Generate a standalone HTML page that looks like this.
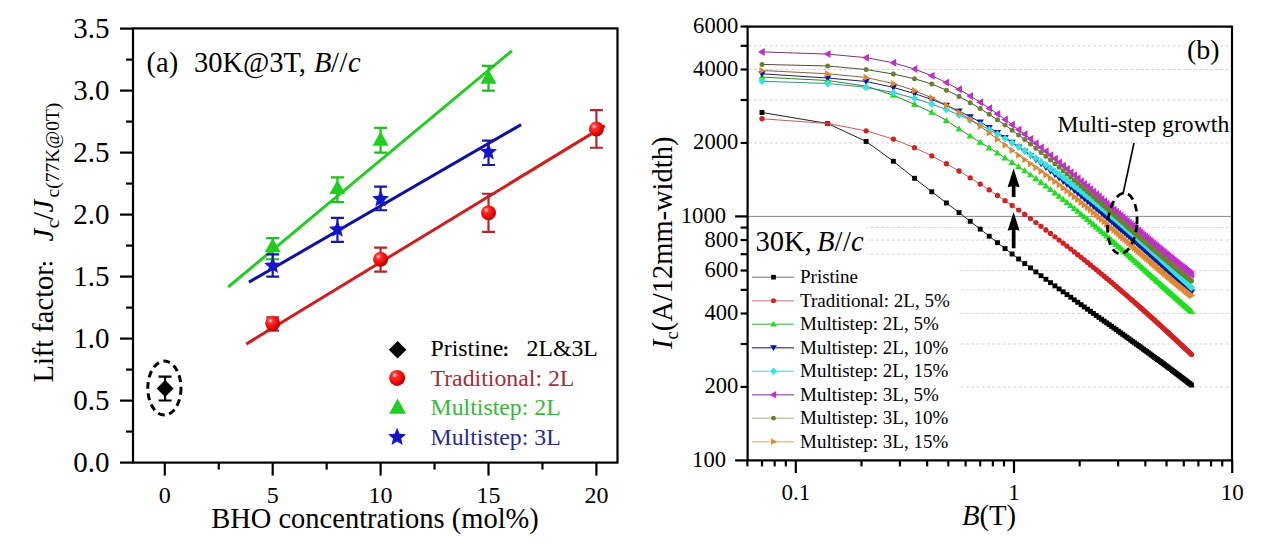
<!DOCTYPE html>
<html><head><meta charset="utf-8"><style>
html,body{margin:0;padding:0;background:#fff;}
svg{display:block;font-family:"Liberation Serif", serif;}
</style></head><body>
<svg width="1270" height="546" viewBox="0 0 1270 546">
<rect x="133.0" y="28.4" width="484.5" height="434.20000000000005" fill="none" stroke="#000" stroke-width="2.2"/>
<line x1="120.0" y1="462.6" x2="133.0" y2="462.6" stroke="#000" stroke-width="2.2"/>
<line x1="126.0" y1="431.6" x2="133.0" y2="431.6" stroke="#000" stroke-width="2.2"/>
<line x1="120.0" y1="400.6" x2="133.0" y2="400.6" stroke="#000" stroke-width="2.2"/>
<line x1="126.0" y1="369.6" x2="133.0" y2="369.6" stroke="#000" stroke-width="2.2"/>
<line x1="120.0" y1="338.6" x2="133.0" y2="338.6" stroke="#000" stroke-width="2.2"/>
<line x1="126.0" y1="307.6" x2="133.0" y2="307.6" stroke="#000" stroke-width="2.2"/>
<line x1="120.0" y1="276.6" x2="133.0" y2="276.6" stroke="#000" stroke-width="2.2"/>
<line x1="126.0" y1="245.6" x2="133.0" y2="245.6" stroke="#000" stroke-width="2.2"/>
<line x1="120.0" y1="214.6" x2="133.0" y2="214.6" stroke="#000" stroke-width="2.2"/>
<line x1="126.0" y1="183.6" x2="133.0" y2="183.6" stroke="#000" stroke-width="2.2"/>
<line x1="120.0" y1="152.6" x2="133.0" y2="152.6" stroke="#000" stroke-width="2.2"/>
<line x1="126.0" y1="121.6" x2="133.0" y2="121.6" stroke="#000" stroke-width="2.2"/>
<line x1="120.0" y1="90.6" x2="133.0" y2="90.6" stroke="#000" stroke-width="2.2"/>
<line x1="126.0" y1="59.6" x2="133.0" y2="59.6" stroke="#000" stroke-width="2.2"/>
<line x1="120.0" y1="28.6" x2="133.0" y2="28.6" stroke="#000" stroke-width="2.2"/>
<text x="109.5" y="472.2" font-size="29" text-anchor="end">0.0</text>
<text x="109.5" y="410.2" font-size="29" text-anchor="end">0.5</text>
<text x="109.5" y="348.2" font-size="29" text-anchor="end">1.0</text>
<text x="109.5" y="286.2" font-size="29" text-anchor="end">1.5</text>
<text x="109.5" y="224.2" font-size="29" text-anchor="end">2.0</text>
<text x="109.5" y="162.2" font-size="29" text-anchor="end">2.5</text>
<text x="109.5" y="100.2" font-size="29" text-anchor="end">3.0</text>
<text x="109.5" y="38.2" font-size="29" text-anchor="end">3.5</text>
<line x1="164.8" y1="462.6" x2="164.8" y2="475.6" stroke="#000" stroke-width="2.2"/>
<line x1="218.75" y1="462.6" x2="218.75" y2="469.6" stroke="#000" stroke-width="2.2"/>
<line x1="272.7" y1="462.6" x2="272.7" y2="475.6" stroke="#000" stroke-width="2.2"/>
<line x1="326.65" y1="462.6" x2="326.65" y2="469.6" stroke="#000" stroke-width="2.2"/>
<line x1="380.6" y1="462.6" x2="380.6" y2="475.6" stroke="#000" stroke-width="2.2"/>
<line x1="434.55" y1="462.6" x2="434.55" y2="469.6" stroke="#000" stroke-width="2.2"/>
<line x1="488.5" y1="462.6" x2="488.5" y2="475.6" stroke="#000" stroke-width="2.2"/>
<line x1="542.45" y1="462.6" x2="542.45" y2="469.6" stroke="#000" stroke-width="2.2"/>
<line x1="596.4" y1="462.6" x2="596.4" y2="475.6" stroke="#000" stroke-width="2.2"/>
<text x="164.8" y="502.6" font-size="24" text-anchor="middle">0</text>
<text x="272.7" y="502.6" font-size="24" text-anchor="middle">5</text>
<text x="380.6" y="502.6" font-size="24" text-anchor="middle">10</text>
<text x="488.5" y="502.6" font-size="24" text-anchor="middle">15</text>
<text x="596.4" y="502.6" font-size="24" text-anchor="middle">20</text>
<text x="375" y="527.5" font-size="28.5" text-anchor="middle">BHO concentrations (mol%)</text>
<g transform="translate(52.5,382.5) rotate(-90)">
<text x="0" y="0" font-size="28.5">Lift factor</text>
<text x="141" y="0" font-size="28.5" font-style="italic">J</text>
<text x="154.3" y="6.8" font-size="19.5">c</text>
<text x="162.5" y="0.5" font-size="28.5">/</text>
<text x="170" y="0" font-size="28.5" font-style="italic">J</text>
<text x="185" y="6.5" font-size="19.5">c(77K@0T)</text>
</g>
<circle cx="44.4" cy="263.7" r="1.6"/><circle cx="51" cy="263.7" r="1.6"/>
<text x="146.5" y="72" font-size="28.5">(a)<tspan x="194">30K@3T,</tspan><tspan x="314" font-style="italic">B</tspan><tspan x="331">/</tspan><tspan x="339.5">/</tspan><tspan x="348" font-style="italic">c</tspan></text>
<line x1="228.2" y1="287" x2="511.9" y2="50.8" stroke="#22cc22" stroke-width="3"/>
<line x1="249" y1="282.1" x2="521.1" y2="124.6" stroke="#1010a0" stroke-width="3"/>
<line x1="246.2" y1="344.1" x2="604.9" y2="125.6" stroke="#cc2020" stroke-width="3"/>
<path d="M158.6 376.7H171.6M165.1 376.7V400.5M158.6 400.5H171.6" stroke="#000" stroke-width="2.2" fill="none"/>
<path d="M165.1 380L173.6 388.5L165.1 397L156.6 388.5Z" fill="#000"/>
<ellipse cx="164.4" cy="388.1" rx="16.6" ry="27" fill="none" stroke="#000" stroke-width="3" stroke-dasharray="6.8 4.6"/>
<path d="M266.2 317.4H279.2M272.7 317.4V330.66M266.2 330.66H279.2" stroke="#b02830" stroke-width="2.2" fill="none"/>
<path d="M374.1 247.58H387.1M380.6 247.58V271.64M374.1 271.64H387.1" stroke="#b02830" stroke-width="2.2" fill="none"/>
<path d="M482 193.77H495M488.5 193.77V231.96M482 231.96H495" stroke="#b02830" stroke-width="2.2" fill="none"/>
<path d="M589.9 110.19H602.9M596.4 110.19V147.76M589.9 147.76H602.9" stroke="#b02830" stroke-width="2.2" fill="none"/>
<circle cx="272.7" cy="323.35" r="7.5" fill="url(#ballg)"/>
<circle cx="380.6" cy="259.24" r="7.5" fill="url(#ballg)"/>
<circle cx="488.5" cy="212.74" r="7.5" fill="url(#ballg)"/>
<circle cx="596.4" cy="129.04" r="7.5" fill="url(#ballg)"/>
<path d="M266.2 238.16H279.2M272.7 238.16V259.24M266.2 259.24H279.2" stroke="#22bb22" stroke-width="2.2" fill="none"/>
<path d="M272.7 237.91L280.7 252.31L264.7 252.31Z" fill="#22cc22"/>
<path d="M330.94 177.4H343.94M337.44 177.4V202.2M330.94 202.2H343.94" stroke="#22bb22" stroke-width="2.2" fill="none"/>
<path d="M337.44 179.63L345.44 194.03L329.44 194.03Z" fill="#22cc22"/>
<path d="M374.1 127.8H387.1M380.6 127.8V152.6M374.1 152.6H387.1" stroke="#22bb22" stroke-width="2.2" fill="none"/>
<path d="M380.6 131.27L388.6 145.67L372.6 145.67Z" fill="#22cc22"/>
<path d="M482 65.8H495M488.5 65.8V90.6M482 90.6H495" stroke="#22bb22" stroke-width="2.2" fill="none"/>
<path d="M488.5 69.27L496.5 83.67L480.5 83.67Z" fill="#22cc22"/>
<path d="M266.2 254.28H279.2M272.7 254.28V276.6M266.2 276.6H279.2" stroke="#1a1aa0" stroke-width="2.2" fill="none"/>
<polygon points="272.7,256.69 275.08,262.41 281.26,262.91 276.55,266.94 277.99,272.97 272.7,269.74 267.41,272.97 268.85,266.94 264.14,262.91 270.32,262.41" fill="#1515c8"/>
<path d="M330.94 217.95H343.94M337.44 217.95V241.88M330.94 241.88H343.94" stroke="#1a1aa0" stroke-width="2.2" fill="none"/>
<polygon points="337.44,220.48 339.82,226.2 346,226.7 341.29,230.73 342.73,236.76 337.44,233.53 332.15,236.76 333.59,230.73 328.88,226.7 335.06,226.2" fill="#1515c8"/>
<path d="M374.1 186.58H387.1M380.6 186.58V210.26M374.1 210.26H387.1" stroke="#1a1aa0" stroke-width="2.2" fill="none"/>
<polygon points="380.6,190.1 382.98,195.82 389.16,196.32 384.45,200.35 385.89,206.38 380.6,203.15 375.31,206.38 376.75,200.35 372.04,196.32 378.22,195.82" fill="#1515c8"/>
<path d="M482 140.57H495M488.5 140.57V165M482 165H495" stroke="#1a1aa0" stroke-width="2.2" fill="none"/>
<polygon points="488.5,143.1 490.88,148.83 497.06,149.32 492.35,153.36 493.79,159.39 488.5,156.15 483.21,159.39 484.65,153.36 479.94,149.32 486.12,148.83" fill="#1515c8"/>
<path d="M397.6 341L406.4 349.8L397.6 358.6L388.8 349.8Z" fill="#000"/>
<circle cx="397.1" cy="377.9" r="8" fill="url(#ballg)"/>
<path d="M397.6 398.51L406.1 413.81L389.1 413.81Z" fill="#22cc22"/>
<polygon points="397.1,427.8 399.61,433.84 406.14,434.36 401.17,438.62 402.68,444.99 397.1,441.57 391.52,444.99 393.03,438.62 388.06,434.36 394.59,433.84" fill="#1515c8"/>
<text x="430.5" y="356.4" font-size="23.8">Pristine<tspan x="526.5">2L&amp;3L</tspan></text>
<circle cx="505.8" cy="347.8" r="1.6"/><circle cx="505.8" cy="354.7" r="1.6"/>
<text x="430.5" y="386.2" font-size="23.8" fill="#a03038">Traditional: 2L</text>
<text x="430.5" y="415.2" font-size="23.8" fill="#38b838">Multistep: 2L</text>
<text x="430.5" y="444.8" font-size="23.8" fill="#2a2a90">Multistep: 3L</text>
<g stroke="#d2d2d2" stroke-width="1" stroke-dasharray="3 2.3">
<line x1="748.6" y1="386.95" x2="1231.0" y2="386.95"/>
<line x1="748.6" y1="343.98" x2="1231.0" y2="343.98"/>
<line x1="748.6" y1="313.5" x2="1231.0" y2="313.5"/>
<line x1="748.6" y1="289.85" x2="1231.0" y2="289.85"/>
<line x1="748.6" y1="270.53" x2="1231.0" y2="270.53"/>
<line x1="748.6" y1="254.2" x2="1231.0" y2="254.2"/>
<line x1="748.6" y1="240.05" x2="1231.0" y2="240.05"/>
<line x1="748.6" y1="227.56" x2="1231.0" y2="227.56"/>
<line x1="748.6" y1="142.95" x2="1231.0" y2="142.95"/>
<line x1="748.6" y1="99.98" x2="1231.0" y2="99.98"/>
<line x1="748.6" y1="69.5" x2="1231.0" y2="69.5"/>
<line x1="748.6" y1="45.85" x2="1231.0" y2="45.85"/>
</g>
<line x1="747.6" y1="216.4" x2="1232.0" y2="216.4" stroke="#888" stroke-width="1"/>
<defs><clipPath id="rc"><rect x="748.6" y="27.6" width="482.4" height="431.8"/></clipPath>
<radialGradient id="ballg" cx="0.35" cy="0.32" r="0.7"><stop offset="0" stop-color="#ffd0d0"/><stop offset="0.25" stop-color="#ff3030"/><stop offset="0.8" stop-color="#e00000"/><stop offset="1" stop-color="#a00000"/></radialGradient></defs>
<g clip-path="url(#rc)">
<path d="M762 112.5 L827.69 123.53 L866.11 141.44 L893.37 161.26 L914.52 178.27 L931.79 191.76 L946.4 202.92 L959.05 212.61 L970.22 221.28 L980.2 229.11 L989.23 236.21 L997.48 242.67 L1005.06 248.57 L1012.09 253.99 L1018.62 258.98 L1024.74 263.6 L1030.48 267.91 L1035.9 271.93 L1041.02 275.72 L1045.89 279.29 L1050.51 282.66 L1054.92 285.87 L1059.13 288.92 L1063.16 291.83 L1067.03 294.61 L1070.75 297.28 L1074.32 299.84 L1077.77 302.31 L1081.1 304.68 L1084.31 306.97 L1087.42 309.18 L1090.42 311.33 L1093.34 313.4 L1096.17 315.41 L1098.92 317.36 L1101.59 319.26 L1104.18 321.11 L1106.71 322.9 L1109.17 324.65 L1111.57 326.36 L1113.91 328.03 L1116.19 329.65 L1118.42 331.24 L1120.6 332.8 L1122.73 334.32 L1124.81 335.81 L1126.85 337.27 L1128.85 338.69 L1130.8 340.1 L1132.72 341.47 L1134.59 342.82 L1136.43 344.14 L1138.24 345.45 L1140.01 346.72 L1141.75 347.98 L1143.46 349.22 L1145.13 350.43 L1146.78 351.63 L1148.4 352.81 L1149.99 353.97 L1151.56 355.11 L1153.1 356.24 L1154.62 357.35 L1156.11 358.44 L1157.58 359.52 L1159.02 360.59 L1160.45 361.64 L1161.85 362.67 L1163.24 363.69 L1164.6 364.7 L1165.94 365.7 L1167.27 366.69 L1168.58 367.66 L1169.87 368.62 L1171.14 369.57 L1172.39 370.51 L1173.63 371.44 L1174.86 372.36 L1176.06 373.27 L1177.25 374.16 L1178.43 375.05 L1179.59 375.93 L1180.74 376.8 L1181.88 377.66 L1183 378.52 L1184.11 379.36 L1185.2 380.2 L1186.29 381.03 L1187.36 381.85 L1188.42 382.66 L1189.46 383.46 L1190.5 384.26 L1191.52 385.05" fill="none" stroke="#202020" stroke-width="1"/>
<g><rect x="759.55" y="110.05" width="4.9" height="4.9" fill="#000000"/><rect x="825.24" y="121.08" width="4.9" height="4.9" fill="#000000"/><rect x="863.66" y="138.99" width="4.9" height="4.9" fill="#000000"/><rect x="890.92" y="158.81" width="4.9" height="4.9" fill="#000000"/><rect x="912.07" y="175.82" width="4.9" height="4.9" fill="#000000"/><rect x="929.34" y="189.31" width="4.9" height="4.9" fill="#000000"/><rect x="943.95" y="200.47" width="4.9" height="4.9" fill="#000000"/><rect x="956.6" y="210.16" width="4.9" height="4.9" fill="#000000"/><rect x="967.77" y="218.83" width="4.9" height="4.9" fill="#000000"/><rect x="977.75" y="226.66" width="4.9" height="4.9" fill="#000000"/><rect x="986.78" y="233.76" width="4.9" height="4.9" fill="#000000"/><rect x="995.03" y="240.22" width="4.9" height="4.9" fill="#000000"/><rect x="1002.61" y="246.12" width="4.9" height="4.9" fill="#000000"/><rect x="1009.64" y="251.54" width="4.9" height="4.9" fill="#000000"/><rect x="1016.17" y="256.53" width="4.9" height="4.9" fill="#000000"/><rect x="1022.29" y="261.15" width="4.9" height="4.9" fill="#000000"/><rect x="1028.03" y="265.46" width="4.9" height="4.9" fill="#000000"/><rect x="1033.45" y="269.48" width="4.9" height="4.9" fill="#000000"/><rect x="1038.57" y="273.27" width="4.9" height="4.9" fill="#000000"/><rect x="1043.44" y="276.84" width="4.9" height="4.9" fill="#000000"/><rect x="1048.06" y="280.21" width="4.9" height="4.9" fill="#000000"/><rect x="1052.47" y="283.42" width="4.9" height="4.9" fill="#000000"/><rect x="1056.68" y="286.47" width="4.9" height="4.9" fill="#000000"/><rect x="1060.71" y="289.38" width="4.9" height="4.9" fill="#000000"/><rect x="1064.58" y="292.16" width="4.9" height="4.9" fill="#000000"/><rect x="1068.3" y="294.83" width="4.9" height="4.9" fill="#000000"/><rect x="1071.87" y="297.39" width="4.9" height="4.9" fill="#000000"/><rect x="1075.32" y="299.86" width="4.9" height="4.9" fill="#000000"/><rect x="1078.65" y="302.23" width="4.9" height="4.9" fill="#000000"/><rect x="1081.86" y="304.52" width="4.9" height="4.9" fill="#000000"/><rect x="1084.97" y="306.73" width="4.9" height="4.9" fill="#000000"/><rect x="1087.97" y="308.88" width="4.9" height="4.9" fill="#000000"/><rect x="1090.89" y="310.95" width="4.9" height="4.9" fill="#000000"/><rect x="1093.72" y="312.96" width="4.9" height="4.9" fill="#000000"/><rect x="1096.47" y="314.91" width="4.9" height="4.9" fill="#000000"/><rect x="1099.14" y="316.81" width="4.9" height="4.9" fill="#000000"/><rect x="1101.73" y="318.66" width="4.9" height="4.9" fill="#000000"/><rect x="1104.26" y="320.45" width="4.9" height="4.9" fill="#000000"/><rect x="1106.72" y="322.2" width="4.9" height="4.9" fill="#000000"/><rect x="1109.12" y="323.91" width="4.9" height="4.9" fill="#000000"/><rect x="1111.46" y="325.58" width="4.9" height="4.9" fill="#000000"/><rect x="1113.74" y="327.2" width="4.9" height="4.9" fill="#000000"/><rect x="1115.97" y="328.79" width="4.9" height="4.9" fill="#000000"/><rect x="1118.15" y="330.35" width="4.9" height="4.9" fill="#000000"/><rect x="1120.28" y="331.87" width="4.9" height="4.9" fill="#000000"/><rect x="1122.36" y="333.36" width="4.9" height="4.9" fill="#000000"/><rect x="1124.4" y="334.82" width="4.9" height="4.9" fill="#000000"/><rect x="1126.4" y="336.24" width="4.9" height="4.9" fill="#000000"/><rect x="1128.35" y="337.65" width="4.9" height="4.9" fill="#000000"/><rect x="1130.27" y="339.02" width="4.9" height="4.9" fill="#000000"/><rect x="1132.14" y="340.37" width="4.9" height="4.9" fill="#000000"/><rect x="1133.98" y="341.69" width="4.9" height="4.9" fill="#000000"/><rect x="1135.79" y="343" width="4.9" height="4.9" fill="#000000"/><rect x="1137.56" y="344.27" width="4.9" height="4.9" fill="#000000"/><rect x="1139.3" y="345.53" width="4.9" height="4.9" fill="#000000"/><rect x="1141.01" y="346.77" width="4.9" height="4.9" fill="#000000"/><rect x="1142.68" y="347.98" width="4.9" height="4.9" fill="#000000"/><rect x="1144.33" y="349.18" width="4.9" height="4.9" fill="#000000"/><rect x="1145.95" y="350.36" width="4.9" height="4.9" fill="#000000"/><rect x="1147.54" y="351.52" width="4.9" height="4.9" fill="#000000"/><rect x="1149.11" y="352.66" width="4.9" height="4.9" fill="#000000"/><rect x="1150.65" y="353.79" width="4.9" height="4.9" fill="#000000"/><rect x="1152.17" y="354.9" width="4.9" height="4.9" fill="#000000"/><rect x="1153.66" y="355.99" width="4.9" height="4.9" fill="#000000"/><rect x="1155.13" y="357.07" width="4.9" height="4.9" fill="#000000"/><rect x="1156.57" y="358.14" width="4.9" height="4.9" fill="#000000"/><rect x="1158" y="359.19" width="4.9" height="4.9" fill="#000000"/><rect x="1159.4" y="360.22" width="4.9" height="4.9" fill="#000000"/><rect x="1160.79" y="361.24" width="4.9" height="4.9" fill="#000000"/><rect x="1162.15" y="362.25" width="4.9" height="4.9" fill="#000000"/><rect x="1163.49" y="363.25" width="4.9" height="4.9" fill="#000000"/><rect x="1164.82" y="364.24" width="4.9" height="4.9" fill="#000000"/><rect x="1166.13" y="365.21" width="4.9" height="4.9" fill="#000000"/><rect x="1167.42" y="366.17" width="4.9" height="4.9" fill="#000000"/><rect x="1168.69" y="367.12" width="4.9" height="4.9" fill="#000000"/><rect x="1169.94" y="368.06" width="4.9" height="4.9" fill="#000000"/><rect x="1171.18" y="368.99" width="4.9" height="4.9" fill="#000000"/><rect x="1172.41" y="369.91" width="4.9" height="4.9" fill="#000000"/><rect x="1173.61" y="370.82" width="4.9" height="4.9" fill="#000000"/><rect x="1174.8" y="371.71" width="4.9" height="4.9" fill="#000000"/><rect x="1175.98" y="372.6" width="4.9" height="4.9" fill="#000000"/><rect x="1177.14" y="373.48" width="4.9" height="4.9" fill="#000000"/><rect x="1178.29" y="374.35" width="4.9" height="4.9" fill="#000000"/><rect x="1179.43" y="375.21" width="4.9" height="4.9" fill="#000000"/><rect x="1180.55" y="376.07" width="4.9" height="4.9" fill="#000000"/><rect x="1181.66" y="376.91" width="4.9" height="4.9" fill="#000000"/><rect x="1182.75" y="377.75" width="4.9" height="4.9" fill="#000000"/><rect x="1183.84" y="378.58" width="4.9" height="4.9" fill="#000000"/><rect x="1184.91" y="379.4" width="4.9" height="4.9" fill="#000000"/><rect x="1185.97" y="380.21" width="4.9" height="4.9" fill="#000000"/><rect x="1187.01" y="381.01" width="4.9" height="4.9" fill="#000000"/><rect x="1188.05" y="381.81" width="4.9" height="4.9" fill="#000000"/><rect x="1189.07" y="382.6" width="4.9" height="4.9" fill="#000000"/></g>
<path d="M762 118.77 L827.69 123.5 L866.11 130.81 L893.37 139.12 L914.52 147.68 L931.79 155.96 L946.4 163.74 L959.05 171.01 L970.22 177.78 L980.2 184.09 L989.23 189.97 L997.48 195.48 L1005.06 200.64 L1012.09 205.5 L1018.62 210.09 L1024.74 214.45 L1030.48 218.6 L1035.9 222.56 L1041.02 226.35 L1045.89 229.98 L1050.51 233.46 L1054.92 236.82 L1059.13 240.05 L1063.16 243.17 L1067.03 246.19 L1070.75 249.1 L1074.32 251.93 L1077.77 254.67 L1081.1 257.34 L1084.31 259.92 L1087.42 262.44 L1090.42 264.89 L1093.34 267.28 L1096.17 269.61 L1098.92 271.88 L1101.59 274.1 L1104.18 276.27 L1106.71 278.38 L1109.17 280.46 L1111.57 282.48 L1113.91 284.47 L1116.19 286.42 L1118.42 288.32 L1120.6 290.19 L1122.73 292.03 L1124.81 293.83 L1126.85 295.59 L1128.85 297.33 L1130.8 299.03 L1132.72 300.71 L1134.59 302.36 L1136.43 303.98 L1138.24 305.57 L1140.01 307.14 L1141.75 308.68 L1143.46 310.2 L1145.13 311.7 L1146.78 313.17 L1148.4 314.63 L1149.99 316.06 L1151.56 317.47 L1153.1 318.86 L1154.62 320.23 L1156.11 321.59 L1157.58 322.92 L1159.02 324.24 L1160.45 325.54 L1161.85 326.83 L1163.24 328.1 L1164.6 329.35 L1165.94 330.59 L1167.27 331.81 L1168.58 333.02 L1169.87 334.21 L1171.14 335.39 L1172.39 336.56 L1173.63 337.71 L1174.86 338.85 L1176.06 339.98 L1177.25 341.09 L1178.43 342.19 L1179.59 343.29 L1180.74 344.37 L1181.88 345.43 L1183 346.49 L1184.11 347.54 L1185.2 348.57 L1186.29 349.6 L1187.36 350.62 L1188.42 351.62 L1189.46 352.62 L1190.5 353.6 L1191.52 354.58" fill="none" stroke="#c06060" stroke-width="1"/>
<g><circle cx="762" cy="118.77" r="2.65" fill="#d02222"/><circle cx="827.69" cy="123.5" r="2.65" fill="#d02222"/><circle cx="866.11" cy="130.81" r="2.65" fill="#d02222"/><circle cx="893.37" cy="139.12" r="2.65" fill="#d02222"/><circle cx="914.52" cy="147.68" r="2.65" fill="#d02222"/><circle cx="931.79" cy="155.96" r="2.65" fill="#d02222"/><circle cx="946.4" cy="163.74" r="2.65" fill="#d02222"/><circle cx="959.05" cy="171.01" r="2.65" fill="#d02222"/><circle cx="970.22" cy="177.78" r="2.65" fill="#d02222"/><circle cx="980.2" cy="184.09" r="2.65" fill="#d02222"/><circle cx="989.23" cy="189.97" r="2.65" fill="#d02222"/><circle cx="997.48" cy="195.48" r="2.65" fill="#d02222"/><circle cx="1005.06" cy="200.64" r="2.65" fill="#d02222"/><circle cx="1012.09" cy="205.5" r="2.65" fill="#d02222"/><circle cx="1018.62" cy="210.09" r="2.65" fill="#d02222"/><circle cx="1024.74" cy="214.45" r="2.65" fill="#d02222"/><circle cx="1030.48" cy="218.6" r="2.65" fill="#d02222"/><circle cx="1035.9" cy="222.56" r="2.65" fill="#d02222"/><circle cx="1041.02" cy="226.35" r="2.65" fill="#d02222"/><circle cx="1045.89" cy="229.98" r="2.65" fill="#d02222"/><circle cx="1050.51" cy="233.46" r="2.65" fill="#d02222"/><circle cx="1054.92" cy="236.82" r="2.65" fill="#d02222"/><circle cx="1059.13" cy="240.05" r="2.65" fill="#d02222"/><circle cx="1063.16" cy="243.17" r="2.65" fill="#d02222"/><circle cx="1067.03" cy="246.19" r="2.65" fill="#d02222"/><circle cx="1070.75" cy="249.1" r="2.65" fill="#d02222"/><circle cx="1074.32" cy="251.93" r="2.65" fill="#d02222"/><circle cx="1077.77" cy="254.67" r="2.65" fill="#d02222"/><circle cx="1081.1" cy="257.34" r="2.65" fill="#d02222"/><circle cx="1084.31" cy="259.92" r="2.65" fill="#d02222"/><circle cx="1087.42" cy="262.44" r="2.65" fill="#d02222"/><circle cx="1090.42" cy="264.89" r="2.65" fill="#d02222"/><circle cx="1093.34" cy="267.28" r="2.65" fill="#d02222"/><circle cx="1096.17" cy="269.61" r="2.65" fill="#d02222"/><circle cx="1098.92" cy="271.88" r="2.65" fill="#d02222"/><circle cx="1101.59" cy="274.1" r="2.65" fill="#d02222"/><circle cx="1104.18" cy="276.27" r="2.65" fill="#d02222"/><circle cx="1106.71" cy="278.38" r="2.65" fill="#d02222"/><circle cx="1109.17" cy="280.46" r="2.65" fill="#d02222"/><circle cx="1111.57" cy="282.48" r="2.65" fill="#d02222"/><circle cx="1113.91" cy="284.47" r="2.65" fill="#d02222"/><circle cx="1116.19" cy="286.42" r="2.65" fill="#d02222"/><circle cx="1118.42" cy="288.32" r="2.65" fill="#d02222"/><circle cx="1120.6" cy="290.19" r="2.65" fill="#d02222"/><circle cx="1122.73" cy="292.03" r="2.65" fill="#d02222"/><circle cx="1124.81" cy="293.83" r="2.65" fill="#d02222"/><circle cx="1126.85" cy="295.59" r="2.65" fill="#d02222"/><circle cx="1128.85" cy="297.33" r="2.65" fill="#d02222"/><circle cx="1130.8" cy="299.03" r="2.65" fill="#d02222"/><circle cx="1132.72" cy="300.71" r="2.65" fill="#d02222"/><circle cx="1134.59" cy="302.36" r="2.65" fill="#d02222"/><circle cx="1136.43" cy="303.98" r="2.65" fill="#d02222"/><circle cx="1138.24" cy="305.57" r="2.65" fill="#d02222"/><circle cx="1140.01" cy="307.14" r="2.65" fill="#d02222"/><circle cx="1141.75" cy="308.68" r="2.65" fill="#d02222"/><circle cx="1143.46" cy="310.2" r="2.65" fill="#d02222"/><circle cx="1145.13" cy="311.7" r="2.65" fill="#d02222"/><circle cx="1146.78" cy="313.17" r="2.65" fill="#d02222"/><circle cx="1148.4" cy="314.63" r="2.65" fill="#d02222"/><circle cx="1149.99" cy="316.06" r="2.65" fill="#d02222"/><circle cx="1151.56" cy="317.47" r="2.65" fill="#d02222"/><circle cx="1153.1" cy="318.86" r="2.65" fill="#d02222"/><circle cx="1154.62" cy="320.23" r="2.65" fill="#d02222"/><circle cx="1156.11" cy="321.59" r="2.65" fill="#d02222"/><circle cx="1157.58" cy="322.92" r="2.65" fill="#d02222"/><circle cx="1159.02" cy="324.24" r="2.65" fill="#d02222"/><circle cx="1160.45" cy="325.54" r="2.65" fill="#d02222"/><circle cx="1161.85" cy="326.83" r="2.65" fill="#d02222"/><circle cx="1163.24" cy="328.1" r="2.65" fill="#d02222"/><circle cx="1164.6" cy="329.35" r="2.65" fill="#d02222"/><circle cx="1165.94" cy="330.59" r="2.65" fill="#d02222"/><circle cx="1167.27" cy="331.81" r="2.65" fill="#d02222"/><circle cx="1168.58" cy="333.02" r="2.65" fill="#d02222"/><circle cx="1169.87" cy="334.21" r="2.65" fill="#d02222"/><circle cx="1171.14" cy="335.39" r="2.65" fill="#d02222"/><circle cx="1172.39" cy="336.56" r="2.65" fill="#d02222"/><circle cx="1173.63" cy="337.71" r="2.65" fill="#d02222"/><circle cx="1174.86" cy="338.85" r="2.65" fill="#d02222"/><circle cx="1176.06" cy="339.98" r="2.65" fill="#d02222"/><circle cx="1177.25" cy="341.09" r="2.65" fill="#d02222"/><circle cx="1178.43" cy="342.19" r="2.65" fill="#d02222"/><circle cx="1179.59" cy="343.29" r="2.65" fill="#d02222"/><circle cx="1180.74" cy="344.37" r="2.65" fill="#d02222"/><circle cx="1181.88" cy="345.43" r="2.65" fill="#d02222"/><circle cx="1183" cy="346.49" r="2.65" fill="#d02222"/><circle cx="1184.11" cy="347.54" r="2.65" fill="#d02222"/><circle cx="1185.2" cy="348.57" r="2.65" fill="#d02222"/><circle cx="1186.29" cy="349.6" r="2.65" fill="#d02222"/><circle cx="1187.36" cy="350.62" r="2.65" fill="#d02222"/><circle cx="1188.42" cy="351.62" r="2.65" fill="#d02222"/><circle cx="1189.46" cy="352.62" r="2.65" fill="#d02222"/><circle cx="1190.5" cy="353.6" r="2.65" fill="#d02222"/><circle cx="1191.52" cy="354.58" r="2.65" fill="#d02222"/></g>
<path d="M762 77.1 L827.69 80.5 L866.11 86.13 L893.37 95.35 L914.52 104.37 L931.79 112.33 L946.4 120.5 L959.05 128.9 L970.22 136.04 L980.2 142.27 L989.23 147.89 L997.48 153.05 L1005.06 157.86 L1012.09 162.39 L1018.62 166.69 L1024.74 170.82 L1030.48 174.8 L1035.9 178.65 L1041.02 182.38 L1045.89 186 L1050.51 189.5 L1054.92 192.9 L1059.13 196.19 L1063.16 199.39 L1067.03 202.49 L1070.75 205.5 L1074.32 208.43 L1077.77 211.28 L1081.1 214.05 L1084.31 216.75 L1087.42 219.38 L1090.42 221.94 L1093.34 224.43 L1096.17 226.86 L1098.92 229.24 L1101.59 231.56 L1104.18 233.82 L1106.71 236.03 L1109.17 238.19 L1111.57 240.3 L1113.91 242.36 L1116.19 244.38 L1118.42 246.36 L1120.6 248.3 L1122.73 250.19 L1124.81 252.05 L1126.85 253.87 L1128.85 255.65 L1130.8 257.4 L1132.72 259.12 L1134.59 260.8 L1136.43 262.45 L1138.24 264.07 L1140.01 265.66 L1141.75 267.23 L1143.46 268.76 L1145.13 270.27 L1146.78 271.75 L1148.4 273.21 L1149.99 274.64 L1151.56 276.05 L1153.1 277.43 L1154.62 278.79 L1156.11 280.13 L1157.58 281.45 L1159.02 282.75 L1160.45 284.02 L1161.85 285.28 L1163.24 286.52 L1164.6 287.74 L1165.94 288.94 L1167.27 290.12 L1168.58 291.29 L1169.87 292.44 L1171.14 293.57 L1172.39 294.69 L1173.63 295.79 L1174.86 296.87 L1176.06 297.94 L1177.25 299 L1178.43 300.04 L1179.59 301.07 L1180.74 302.08 L1181.88 303.08 L1183 304.07 L1184.11 305.04 L1185.2 306 L1186.29 306.95 L1187.36 307.89 L1188.42 308.81 L1189.46 309.73 L1190.5 310.63 L1191.52 311.52" fill="none" stroke="#308030" stroke-width="1"/>
<g><path d="M762 73.5L765.6 79.62L758.4 79.62Z" fill="#22dd22"/><path d="M827.69 76.9L831.29 83.02L824.09 83.02Z" fill="#22dd22"/><path d="M866.11 82.53L869.71 88.65L862.51 88.65Z" fill="#22dd22"/><path d="M893.37 91.75L896.97 97.87L889.77 97.87Z" fill="#22dd22"/><path d="M914.52 100.77L918.12 106.89L910.92 106.89Z" fill="#22dd22"/><path d="M931.79 108.73L935.39 114.85L928.19 114.85Z" fill="#22dd22"/><path d="M946.4 116.9L950 123.02L942.8 123.02Z" fill="#22dd22"/><path d="M959.05 125.3L962.65 131.42L955.45 131.42Z" fill="#22dd22"/><path d="M970.22 132.44L973.82 138.56L966.62 138.56Z" fill="#22dd22"/><path d="M980.2 138.67L983.8 144.79L976.6 144.79Z" fill="#22dd22"/><path d="M989.23 144.29L992.83 150.41L985.63 150.41Z" fill="#22dd22"/><path d="M997.48 149.45L1001.08 155.57L993.88 155.57Z" fill="#22dd22"/><path d="M1005.06 154.26L1008.66 160.38L1001.46 160.38Z" fill="#22dd22"/><path d="M1012.09 158.79L1015.69 164.91L1008.49 164.91Z" fill="#22dd22"/><path d="M1018.62 163.09L1022.22 169.21L1015.02 169.21Z" fill="#22dd22"/><path d="M1024.74 167.22L1028.34 173.34L1021.14 173.34Z" fill="#22dd22"/><path d="M1030.48 171.2L1034.08 177.32L1026.88 177.32Z" fill="#22dd22"/><path d="M1035.9 175.05L1039.5 181.17L1032.3 181.17Z" fill="#22dd22"/><path d="M1041.02 178.78L1044.62 184.9L1037.42 184.9Z" fill="#22dd22"/><path d="M1045.89 182.4L1049.49 188.52L1042.29 188.52Z" fill="#22dd22"/><path d="M1050.51 185.9L1054.11 192.02L1046.91 192.02Z" fill="#22dd22"/><path d="M1054.92 189.3L1058.52 195.42L1051.32 195.42Z" fill="#22dd22"/><path d="M1059.13 192.59L1062.73 198.71L1055.53 198.71Z" fill="#22dd22"/><path d="M1063.16 195.79L1066.76 201.91L1059.56 201.91Z" fill="#22dd22"/><path d="M1067.03 198.89L1070.63 205.01L1063.43 205.01Z" fill="#22dd22"/><path d="M1070.75 201.9L1074.35 208.02L1067.15 208.02Z" fill="#22dd22"/><path d="M1074.32 204.83L1077.92 210.95L1070.72 210.95Z" fill="#22dd22"/><path d="M1077.77 207.68L1081.37 213.8L1074.17 213.8Z" fill="#22dd22"/><path d="M1081.1 210.45L1084.7 216.57L1077.5 216.57Z" fill="#22dd22"/><path d="M1084.31 213.15L1087.91 219.27L1080.71 219.27Z" fill="#22dd22"/><path d="M1087.42 215.78L1091.02 221.9L1083.82 221.9Z" fill="#22dd22"/><path d="M1090.42 218.34L1094.02 224.46L1086.82 224.46Z" fill="#22dd22"/><path d="M1093.34 220.83L1096.94 226.95L1089.74 226.95Z" fill="#22dd22"/><path d="M1096.17 223.26L1099.77 229.38L1092.57 229.38Z" fill="#22dd22"/><path d="M1098.92 225.64L1102.52 231.76L1095.32 231.76Z" fill="#22dd22"/><path d="M1101.59 227.96L1105.19 234.08L1097.99 234.08Z" fill="#22dd22"/><path d="M1104.18 230.22L1107.78 236.34L1100.58 236.34Z" fill="#22dd22"/><path d="M1106.71 232.43L1110.31 238.55L1103.11 238.55Z" fill="#22dd22"/><path d="M1109.17 234.59L1112.77 240.71L1105.57 240.71Z" fill="#22dd22"/><path d="M1111.57 236.7L1115.17 242.82L1107.97 242.82Z" fill="#22dd22"/><path d="M1113.91 238.76L1117.51 244.88L1110.31 244.88Z" fill="#22dd22"/><path d="M1116.19 240.78L1119.79 246.9L1112.59 246.9Z" fill="#22dd22"/><path d="M1118.42 242.76L1122.02 248.88L1114.82 248.88Z" fill="#22dd22"/><path d="M1120.6 244.7L1124.2 250.82L1117 250.82Z" fill="#22dd22"/><path d="M1122.73 246.59L1126.33 252.71L1119.13 252.71Z" fill="#22dd22"/><path d="M1124.81 248.45L1128.41 254.57L1121.21 254.57Z" fill="#22dd22"/><path d="M1126.85 250.27L1130.45 256.39L1123.25 256.39Z" fill="#22dd22"/><path d="M1128.85 252.05L1132.45 258.17L1125.25 258.17Z" fill="#22dd22"/><path d="M1130.8 253.8L1134.4 259.92L1127.2 259.92Z" fill="#22dd22"/><path d="M1132.72 255.52L1136.32 261.64L1129.12 261.64Z" fill="#22dd22"/><path d="M1134.59 257.2L1138.19 263.32L1130.99 263.32Z" fill="#22dd22"/><path d="M1136.43 258.85L1140.03 264.97L1132.83 264.97Z" fill="#22dd22"/><path d="M1138.24 260.47L1141.84 266.59L1134.64 266.59Z" fill="#22dd22"/><path d="M1140.01 262.06L1143.61 268.18L1136.41 268.18Z" fill="#22dd22"/><path d="M1141.75 263.63L1145.35 269.75L1138.15 269.75Z" fill="#22dd22"/><path d="M1143.46 265.16L1147.06 271.28L1139.86 271.28Z" fill="#22dd22"/><path d="M1145.13 266.67L1148.73 272.79L1141.53 272.79Z" fill="#22dd22"/><path d="M1146.78 268.15L1150.38 274.27L1143.18 274.27Z" fill="#22dd22"/><path d="M1148.4 269.61L1152 275.73L1144.8 275.73Z" fill="#22dd22"/><path d="M1149.99 271.04L1153.59 277.16L1146.39 277.16Z" fill="#22dd22"/><path d="M1151.56 272.45L1155.16 278.57L1147.96 278.57Z" fill="#22dd22"/><path d="M1153.1 273.83L1156.7 279.95L1149.5 279.95Z" fill="#22dd22"/><path d="M1154.62 275.19L1158.22 281.31L1151.02 281.31Z" fill="#22dd22"/><path d="M1156.11 276.53L1159.71 282.65L1152.51 282.65Z" fill="#22dd22"/><path d="M1157.58 277.85L1161.18 283.97L1153.98 283.97Z" fill="#22dd22"/><path d="M1159.02 279.15L1162.62 285.27L1155.42 285.27Z" fill="#22dd22"/><path d="M1160.45 280.42L1164.05 286.54L1156.85 286.54Z" fill="#22dd22"/><path d="M1161.85 281.68L1165.45 287.8L1158.25 287.8Z" fill="#22dd22"/><path d="M1163.24 282.92L1166.84 289.04L1159.64 289.04Z" fill="#22dd22"/><path d="M1164.6 284.14L1168.2 290.26L1161 290.26Z" fill="#22dd22"/><path d="M1165.94 285.34L1169.54 291.46L1162.34 291.46Z" fill="#22dd22"/><path d="M1167.27 286.52L1170.87 292.64L1163.67 292.64Z" fill="#22dd22"/><path d="M1168.58 287.69L1172.18 293.81L1164.98 293.81Z" fill="#22dd22"/><path d="M1169.87 288.84L1173.47 294.96L1166.27 294.96Z" fill="#22dd22"/><path d="M1171.14 289.97L1174.74 296.09L1167.54 296.09Z" fill="#22dd22"/><path d="M1172.39 291.09L1175.99 297.21L1168.79 297.21Z" fill="#22dd22"/><path d="M1173.63 292.19L1177.23 298.31L1170.03 298.31Z" fill="#22dd22"/><path d="M1174.86 293.27L1178.46 299.39L1171.26 299.39Z" fill="#22dd22"/><path d="M1176.06 294.34L1179.66 300.46L1172.46 300.46Z" fill="#22dd22"/><path d="M1177.25 295.4L1180.85 301.52L1173.65 301.52Z" fill="#22dd22"/><path d="M1178.43 296.44L1182.03 302.56L1174.83 302.56Z" fill="#22dd22"/><path d="M1179.59 297.47L1183.19 303.59L1175.99 303.59Z" fill="#22dd22"/><path d="M1180.74 298.48L1184.34 304.6L1177.14 304.6Z" fill="#22dd22"/><path d="M1181.88 299.48L1185.48 305.6L1178.28 305.6Z" fill="#22dd22"/><path d="M1183 300.47L1186.6 306.59L1179.4 306.59Z" fill="#22dd22"/><path d="M1184.11 301.44L1187.71 307.56L1180.51 307.56Z" fill="#22dd22"/><path d="M1185.2 302.4L1188.8 308.52L1181.6 308.52Z" fill="#22dd22"/><path d="M1186.29 303.35L1189.89 309.47L1182.69 309.47Z" fill="#22dd22"/><path d="M1187.36 304.29L1190.96 310.41L1183.76 310.41Z" fill="#22dd22"/><path d="M1188.42 305.21L1192.02 311.33L1184.82 311.33Z" fill="#22dd22"/><path d="M1189.46 306.13L1193.06 312.25L1185.86 312.25Z" fill="#22dd22"/><path d="M1190.5 307.03L1194.1 313.15L1186.9 313.15Z" fill="#22dd22"/><path d="M1191.52 307.92L1195.12 314.04L1187.92 314.04Z" fill="#22dd22"/></g>
<path d="M762 73.82 L827.69 78.04 L866.11 81.48 L893.37 87.41 L914.52 93.55 L931.79 99.54 L946.4 105.39 L959.05 111.11 L970.22 116.69 L980.2 122.13 L989.23 127.44 L997.48 132.59 L1005.06 137.56 L1012.09 142.34 L1018.62 146.95 L1024.74 151.37 L1030.48 155.63 L1035.9 159.72 L1041.02 163.66 L1045.89 167.45 L1050.51 171.1 L1054.92 174.62 L1059.13 178.01 L1063.16 181.28 L1067.03 184.44 L1070.75 187.5 L1074.32 190.45 L1077.77 193.31 L1081.1 196.08 L1084.31 198.76 L1087.42 201.36 L1090.42 203.88 L1093.34 206.33 L1096.17 208.71 L1098.92 211.02 L1101.59 213.27 L1104.18 215.46 L1106.71 217.6 L1109.17 219.68 L1111.57 221.72 L1113.91 223.71 L1116.19 225.65 L1118.42 227.55 L1120.6 229.41 L1122.73 231.23 L1124.81 233.01 L1126.85 234.76 L1128.85 236.47 L1130.8 238.15 L1132.72 239.8 L1134.59 241.42 L1136.43 243.01 L1138.24 244.57 L1140.01 246.11 L1141.75 247.62 L1143.46 249.1 L1145.13 250.56 L1146.78 252 L1148.4 253.41 L1149.99 254.81 L1151.56 256.18 L1153.1 257.53 L1154.62 258.86 L1156.11 260.18 L1157.58 261.47 L1159.02 262.75 L1160.45 264.01 L1161.85 265.25 L1163.24 266.48 L1164.6 267.69 L1165.94 268.89 L1167.27 270.07 L1168.58 271.23 L1169.87 272.39 L1171.14 273.52 L1172.39 274.65 L1173.63 275.76 L1174.86 276.86 L1176.06 277.94 L1177.25 279.02 L1178.43 280.08 L1179.59 281.13 L1180.74 282.17 L1181.88 283.2 L1183 284.22 L1184.11 285.22 L1185.2 286.22 L1186.29 287.2 L1187.36 288.18 L1188.42 289.15 L1189.46 290.11 L1190.5 291.05 L1191.52 291.99" fill="none" stroke="#202070" stroke-width="1"/>
<g><path d="M762 77.42L765.6 71.3L758.4 71.3Z" fill="#0a1a9a"/><path d="M827.69 81.64L831.29 75.52L824.09 75.52Z" fill="#0a1a9a"/><path d="M866.11 85.08L869.71 78.96L862.51 78.96Z" fill="#0a1a9a"/><path d="M893.37 91.01L896.97 84.89L889.77 84.89Z" fill="#0a1a9a"/><path d="M914.52 97.15L918.12 91.03L910.92 91.03Z" fill="#0a1a9a"/><path d="M931.79 103.14L935.39 97.02L928.19 97.02Z" fill="#0a1a9a"/><path d="M946.4 108.99L950 102.87L942.8 102.87Z" fill="#0a1a9a"/><path d="M959.05 114.71L962.65 108.59L955.45 108.59Z" fill="#0a1a9a"/><path d="M970.22 120.29L973.82 114.17L966.62 114.17Z" fill="#0a1a9a"/><path d="M980.2 125.73L983.8 119.61L976.6 119.61Z" fill="#0a1a9a"/><path d="M989.23 131.04L992.83 124.92L985.63 124.92Z" fill="#0a1a9a"/><path d="M997.48 136.19L1001.08 130.07L993.88 130.07Z" fill="#0a1a9a"/><path d="M1005.06 141.16L1008.66 135.04L1001.46 135.04Z" fill="#0a1a9a"/><path d="M1012.09 145.94L1015.69 139.82L1008.49 139.82Z" fill="#0a1a9a"/><path d="M1018.62 150.55L1022.22 144.43L1015.02 144.43Z" fill="#0a1a9a"/><path d="M1024.74 154.97L1028.34 148.85L1021.14 148.85Z" fill="#0a1a9a"/><path d="M1030.48 159.23L1034.08 153.11L1026.88 153.11Z" fill="#0a1a9a"/><path d="M1035.9 163.32L1039.5 157.2L1032.3 157.2Z" fill="#0a1a9a"/><path d="M1041.02 167.26L1044.62 161.14L1037.42 161.14Z" fill="#0a1a9a"/><path d="M1045.89 171.05L1049.49 164.93L1042.29 164.93Z" fill="#0a1a9a"/><path d="M1050.51 174.7L1054.11 168.58L1046.91 168.58Z" fill="#0a1a9a"/><path d="M1054.92 178.22L1058.52 172.1L1051.32 172.1Z" fill="#0a1a9a"/><path d="M1059.13 181.61L1062.73 175.49L1055.53 175.49Z" fill="#0a1a9a"/><path d="M1063.16 184.88L1066.76 178.76L1059.56 178.76Z" fill="#0a1a9a"/><path d="M1067.03 188.04L1070.63 181.92L1063.43 181.92Z" fill="#0a1a9a"/><path d="M1070.75 191.1L1074.35 184.98L1067.15 184.98Z" fill="#0a1a9a"/><path d="M1074.32 194.05L1077.92 187.93L1070.72 187.93Z" fill="#0a1a9a"/><path d="M1077.77 196.91L1081.37 190.79L1074.17 190.79Z" fill="#0a1a9a"/><path d="M1081.1 199.68L1084.7 193.56L1077.5 193.56Z" fill="#0a1a9a"/><path d="M1084.31 202.36L1087.91 196.24L1080.71 196.24Z" fill="#0a1a9a"/><path d="M1087.42 204.96L1091.02 198.84L1083.82 198.84Z" fill="#0a1a9a"/><path d="M1090.42 207.48L1094.02 201.36L1086.82 201.36Z" fill="#0a1a9a"/><path d="M1093.34 209.93L1096.94 203.81L1089.74 203.81Z" fill="#0a1a9a"/><path d="M1096.17 212.31L1099.77 206.19L1092.57 206.19Z" fill="#0a1a9a"/><path d="M1098.92 214.62L1102.52 208.5L1095.32 208.5Z" fill="#0a1a9a"/><path d="M1101.59 216.87L1105.19 210.75L1097.99 210.75Z" fill="#0a1a9a"/><path d="M1104.18 219.06L1107.78 212.94L1100.58 212.94Z" fill="#0a1a9a"/><path d="M1106.71 221.2L1110.31 215.08L1103.11 215.08Z" fill="#0a1a9a"/><path d="M1109.17 223.28L1112.77 217.16L1105.57 217.16Z" fill="#0a1a9a"/><path d="M1111.57 225.32L1115.17 219.2L1107.97 219.2Z" fill="#0a1a9a"/><path d="M1113.91 227.31L1117.51 221.19L1110.31 221.19Z" fill="#0a1a9a"/><path d="M1116.19 229.25L1119.79 223.13L1112.59 223.13Z" fill="#0a1a9a"/><path d="M1118.42 231.15L1122.02 225.03L1114.82 225.03Z" fill="#0a1a9a"/><path d="M1120.6 233.01L1124.2 226.89L1117 226.89Z" fill="#0a1a9a"/><path d="M1122.73 234.83L1126.33 228.71L1119.13 228.71Z" fill="#0a1a9a"/><path d="M1124.81 236.61L1128.41 230.49L1121.21 230.49Z" fill="#0a1a9a"/><path d="M1126.85 238.36L1130.45 232.24L1123.25 232.24Z" fill="#0a1a9a"/><path d="M1128.85 240.07L1132.45 233.95L1125.25 233.95Z" fill="#0a1a9a"/><path d="M1130.8 241.75L1134.4 235.63L1127.2 235.63Z" fill="#0a1a9a"/><path d="M1132.72 243.4L1136.32 237.28L1129.12 237.28Z" fill="#0a1a9a"/><path d="M1134.59 245.02L1138.19 238.9L1130.99 238.9Z" fill="#0a1a9a"/><path d="M1136.43 246.61L1140.03 240.49L1132.83 240.49Z" fill="#0a1a9a"/><path d="M1138.24 248.17L1141.84 242.05L1134.64 242.05Z" fill="#0a1a9a"/><path d="M1140.01 249.71L1143.61 243.59L1136.41 243.59Z" fill="#0a1a9a"/><path d="M1141.75 251.22L1145.35 245.1L1138.15 245.1Z" fill="#0a1a9a"/><path d="M1143.46 252.7L1147.06 246.58L1139.86 246.58Z" fill="#0a1a9a"/><path d="M1145.13 254.16L1148.73 248.04L1141.53 248.04Z" fill="#0a1a9a"/><path d="M1146.78 255.6L1150.38 249.48L1143.18 249.48Z" fill="#0a1a9a"/><path d="M1148.4 257.01L1152 250.89L1144.8 250.89Z" fill="#0a1a9a"/><path d="M1149.99 258.41L1153.59 252.29L1146.39 252.29Z" fill="#0a1a9a"/><path d="M1151.56 259.78L1155.16 253.66L1147.96 253.66Z" fill="#0a1a9a"/><path d="M1153.1 261.13L1156.7 255.01L1149.5 255.01Z" fill="#0a1a9a"/><path d="M1154.62 262.46L1158.22 256.34L1151.02 256.34Z" fill="#0a1a9a"/><path d="M1156.11 263.78L1159.71 257.66L1152.51 257.66Z" fill="#0a1a9a"/><path d="M1157.58 265.07L1161.18 258.95L1153.98 258.95Z" fill="#0a1a9a"/><path d="M1159.02 266.35L1162.62 260.23L1155.42 260.23Z" fill="#0a1a9a"/><path d="M1160.45 267.61L1164.05 261.49L1156.85 261.49Z" fill="#0a1a9a"/><path d="M1161.85 268.85L1165.45 262.73L1158.25 262.73Z" fill="#0a1a9a"/><path d="M1163.24 270.08L1166.84 263.96L1159.64 263.96Z" fill="#0a1a9a"/><path d="M1164.6 271.29L1168.2 265.17L1161 265.17Z" fill="#0a1a9a"/><path d="M1165.94 272.49L1169.54 266.37L1162.34 266.37Z" fill="#0a1a9a"/><path d="M1167.27 273.67L1170.87 267.55L1163.67 267.55Z" fill="#0a1a9a"/><path d="M1168.58 274.83L1172.18 268.71L1164.98 268.71Z" fill="#0a1a9a"/><path d="M1169.87 275.99L1173.47 269.87L1166.27 269.87Z" fill="#0a1a9a"/><path d="M1171.14 277.12L1174.74 271L1167.54 271Z" fill="#0a1a9a"/><path d="M1172.39 278.25L1175.99 272.13L1168.79 272.13Z" fill="#0a1a9a"/><path d="M1173.63 279.36L1177.23 273.24L1170.03 273.24Z" fill="#0a1a9a"/><path d="M1174.86 280.46L1178.46 274.34L1171.26 274.34Z" fill="#0a1a9a"/><path d="M1176.06 281.54L1179.66 275.42L1172.46 275.42Z" fill="#0a1a9a"/><path d="M1177.25 282.62L1180.85 276.5L1173.65 276.5Z" fill="#0a1a9a"/><path d="M1178.43 283.68L1182.03 277.56L1174.83 277.56Z" fill="#0a1a9a"/><path d="M1179.59 284.73L1183.19 278.61L1175.99 278.61Z" fill="#0a1a9a"/><path d="M1180.74 285.77L1184.34 279.65L1177.14 279.65Z" fill="#0a1a9a"/><path d="M1181.88 286.8L1185.48 280.68L1178.28 280.68Z" fill="#0a1a9a"/><path d="M1183 287.82L1186.6 281.7L1179.4 281.7Z" fill="#0a1a9a"/><path d="M1184.11 288.82L1187.71 282.7L1180.51 282.7Z" fill="#0a1a9a"/><path d="M1185.2 289.82L1188.8 283.7L1181.6 283.7Z" fill="#0a1a9a"/><path d="M1186.29 290.8L1189.89 284.68L1182.69 284.68Z" fill="#0a1a9a"/><path d="M1187.36 291.78L1190.96 285.66L1183.76 285.66Z" fill="#0a1a9a"/><path d="M1188.42 292.75L1192.02 286.63L1184.82 286.63Z" fill="#0a1a9a"/><path d="M1189.46 293.71L1193.06 287.59L1185.86 287.59Z" fill="#0a1a9a"/><path d="M1190.5 294.65L1194.1 288.53L1186.9 288.53Z" fill="#0a1a9a"/><path d="M1191.52 295.59L1195.12 289.47L1187.92 289.47Z" fill="#0a1a9a"/></g>
<path d="M762 81.23 L827.69 83.5 L866.11 87.26 L893.37 92.6 L914.52 98.37 L931.79 104.07 L946.4 109.61 L959.05 114.93 L970.22 120.05 L980.2 124.97 L989.23 129.69 L997.48 134.24 L1005.06 138.61 L1012.09 142.82 L1018.62 146.86 L1024.74 150.76 L1030.48 154.52 L1035.9 158.14 L1041.02 161.64 L1045.89 165.02 L1050.51 168.3 L1054.92 171.47 L1059.13 174.54 L1063.16 177.52 L1067.03 180.42 L1070.75 183.23 L1074.32 185.97 L1077.77 188.63 L1081.1 191.23 L1084.31 193.75 L1087.42 196.22 L1090.42 198.62 L1093.34 200.97 L1096.17 203.26 L1098.92 205.51 L1101.59 207.7 L1104.18 209.84 L1106.71 211.94 L1109.17 213.99 L1111.57 216 L1113.91 217.98 L1116.19 219.91 L1118.42 221.8 L1120.6 223.66 L1122.73 225.49 L1124.81 227.28 L1126.85 229.04 L1128.85 230.77 L1130.8 232.47 L1132.72 234.14 L1134.59 235.78 L1136.43 237.39 L1138.24 238.98 L1140.01 240.54 L1141.75 242.08 L1143.46 243.59 L1145.13 245.08 L1146.78 246.55 L1148.4 248 L1149.99 249.42 L1151.56 250.83 L1153.1 252.21 L1154.62 253.58 L1156.11 254.92 L1157.58 256.25 L1159.02 257.56 L1160.45 258.85 L1161.85 260.13 L1163.24 261.39 L1164.6 262.63 L1165.94 263.85 L1167.27 265.06 L1168.58 266.26 L1169.87 267.44 L1171.14 268.61 L1172.39 269.76 L1173.63 270.9 L1174.86 272.03 L1176.06 273.14 L1177.25 274.24 L1178.43 275.32 L1179.59 276.4 L1180.74 277.46 L1181.88 278.51 L1183 279.55 L1184.11 280.58 L1185.2 281.6 L1186.29 282.61 L1187.36 283.6 L1188.42 284.59 L1189.46 285.57 L1190.5 286.53 L1191.52 287.49" fill="none" stroke="#309090" stroke-width="1"/>
<g><path d="M762 77.27L765.6 81.23L762 85.19L758.4 81.23Z" fill="#38e0e0"/><path d="M827.69 79.54L831.29 83.5L827.69 87.46L824.09 83.5Z" fill="#38e0e0"/><path d="M866.11 83.3L869.71 87.26L866.11 91.22L862.51 87.26Z" fill="#38e0e0"/><path d="M893.37 88.64L896.97 92.6L893.37 96.56L889.77 92.6Z" fill="#38e0e0"/><path d="M914.52 94.41L918.12 98.37L914.52 102.33L910.92 98.37Z" fill="#38e0e0"/><path d="M931.79 100.11L935.39 104.07L931.79 108.03L928.19 104.07Z" fill="#38e0e0"/><path d="M946.4 105.65L950 109.61L946.4 113.57L942.8 109.61Z" fill="#38e0e0"/><path d="M959.05 110.97L962.65 114.93L959.05 118.89L955.45 114.93Z" fill="#38e0e0"/><path d="M970.22 116.09L973.82 120.05L970.22 124.01L966.62 120.05Z" fill="#38e0e0"/><path d="M980.2 121.01L983.8 124.97L980.2 128.93L976.6 124.97Z" fill="#38e0e0"/><path d="M989.23 125.73L992.83 129.69L989.23 133.65L985.63 129.69Z" fill="#38e0e0"/><path d="M997.48 130.28L1001.08 134.24L997.48 138.2L993.88 134.24Z" fill="#38e0e0"/><path d="M1005.06 134.65L1008.66 138.61L1005.06 142.57L1001.46 138.61Z" fill="#38e0e0"/><path d="M1012.09 138.86L1015.69 142.82L1012.09 146.78L1008.49 142.82Z" fill="#38e0e0"/><path d="M1018.62 142.9L1022.22 146.86L1018.62 150.82L1015.02 146.86Z" fill="#38e0e0"/><path d="M1024.74 146.8L1028.34 150.76L1024.74 154.72L1021.14 150.76Z" fill="#38e0e0"/><path d="M1030.48 150.56L1034.08 154.52L1030.48 158.48L1026.88 154.52Z" fill="#38e0e0"/><path d="M1035.9 154.18L1039.5 158.14L1035.9 162.1L1032.3 158.14Z" fill="#38e0e0"/><path d="M1041.02 157.68L1044.62 161.64L1041.02 165.6L1037.42 161.64Z" fill="#38e0e0"/><path d="M1045.89 161.06L1049.49 165.02L1045.89 168.98L1042.29 165.02Z" fill="#38e0e0"/><path d="M1050.51 164.34L1054.11 168.3L1050.51 172.26L1046.91 168.3Z" fill="#38e0e0"/><path d="M1054.92 167.51L1058.52 171.47L1054.92 175.43L1051.32 171.47Z" fill="#38e0e0"/><path d="M1059.13 170.58L1062.73 174.54L1059.13 178.5L1055.53 174.54Z" fill="#38e0e0"/><path d="M1063.16 173.56L1066.76 177.52L1063.16 181.48L1059.56 177.52Z" fill="#38e0e0"/><path d="M1067.03 176.46L1070.63 180.42L1067.03 184.38L1063.43 180.42Z" fill="#38e0e0"/><path d="M1070.75 179.27L1074.35 183.23L1070.75 187.19L1067.15 183.23Z" fill="#38e0e0"/><path d="M1074.32 182.01L1077.92 185.97L1074.32 189.93L1070.72 185.97Z" fill="#38e0e0"/><path d="M1077.77 184.67L1081.37 188.63L1077.77 192.59L1074.17 188.63Z" fill="#38e0e0"/><path d="M1081.1 187.27L1084.7 191.23L1081.1 195.19L1077.5 191.23Z" fill="#38e0e0"/><path d="M1084.31 189.79L1087.91 193.75L1084.31 197.71L1080.71 193.75Z" fill="#38e0e0"/><path d="M1087.42 192.26L1091.02 196.22L1087.42 200.18L1083.82 196.22Z" fill="#38e0e0"/><path d="M1090.42 194.66L1094.02 198.62L1090.42 202.58L1086.82 198.62Z" fill="#38e0e0"/><path d="M1093.34 197.01L1096.94 200.97L1093.34 204.93L1089.74 200.97Z" fill="#38e0e0"/><path d="M1096.17 199.3L1099.77 203.26L1096.17 207.22L1092.57 203.26Z" fill="#38e0e0"/><path d="M1098.92 201.55L1102.52 205.51L1098.92 209.47L1095.32 205.51Z" fill="#38e0e0"/><path d="M1101.59 203.74L1105.19 207.7L1101.59 211.66L1097.99 207.7Z" fill="#38e0e0"/><path d="M1104.18 205.88L1107.78 209.84L1104.18 213.8L1100.58 209.84Z" fill="#38e0e0"/><path d="M1106.71 207.98L1110.31 211.94L1106.71 215.9L1103.11 211.94Z" fill="#38e0e0"/><path d="M1109.17 210.03L1112.77 213.99L1109.17 217.95L1105.57 213.99Z" fill="#38e0e0"/><path d="M1111.57 212.04L1115.17 216L1111.57 219.96L1107.97 216Z" fill="#38e0e0"/><path d="M1113.91 214.02L1117.51 217.98L1113.91 221.94L1110.31 217.98Z" fill="#38e0e0"/><path d="M1116.19 215.95L1119.79 219.91L1116.19 223.87L1112.59 219.91Z" fill="#38e0e0"/><path d="M1118.42 217.84L1122.02 221.8L1118.42 225.76L1114.82 221.8Z" fill="#38e0e0"/><path d="M1120.6 219.7L1124.2 223.66L1120.6 227.62L1117 223.66Z" fill="#38e0e0"/><path d="M1122.73 221.53L1126.33 225.49L1122.73 229.45L1119.13 225.49Z" fill="#38e0e0"/><path d="M1124.81 223.32L1128.41 227.28L1124.81 231.24L1121.21 227.28Z" fill="#38e0e0"/><path d="M1126.85 225.08L1130.45 229.04L1126.85 233L1123.25 229.04Z" fill="#38e0e0"/><path d="M1128.85 226.81L1132.45 230.77L1128.85 234.73L1125.25 230.77Z" fill="#38e0e0"/><path d="M1130.8 228.51L1134.4 232.47L1130.8 236.43L1127.2 232.47Z" fill="#38e0e0"/><path d="M1132.72 230.18L1136.32 234.14L1132.72 238.1L1129.12 234.14Z" fill="#38e0e0"/><path d="M1134.59 231.82L1138.19 235.78L1134.59 239.74L1130.99 235.78Z" fill="#38e0e0"/><path d="M1136.43 233.43L1140.03 237.39L1136.43 241.35L1132.83 237.39Z" fill="#38e0e0"/><path d="M1138.24 235.02L1141.84 238.98L1138.24 242.94L1134.64 238.98Z" fill="#38e0e0"/><path d="M1140.01 236.58L1143.61 240.54L1140.01 244.5L1136.41 240.54Z" fill="#38e0e0"/><path d="M1141.75 238.12L1145.35 242.08L1141.75 246.04L1138.15 242.08Z" fill="#38e0e0"/><path d="M1143.46 239.63L1147.06 243.59L1143.46 247.55L1139.86 243.59Z" fill="#38e0e0"/><path d="M1145.13 241.12L1148.73 245.08L1145.13 249.04L1141.53 245.08Z" fill="#38e0e0"/><path d="M1146.78 242.59L1150.38 246.55L1146.78 250.51L1143.18 246.55Z" fill="#38e0e0"/><path d="M1148.4 244.04L1152 248L1148.4 251.96L1144.8 248Z" fill="#38e0e0"/><path d="M1149.99 245.46L1153.59 249.42L1149.99 253.38L1146.39 249.42Z" fill="#38e0e0"/><path d="M1151.56 246.87L1155.16 250.83L1151.56 254.79L1147.96 250.83Z" fill="#38e0e0"/><path d="M1153.1 248.25L1156.7 252.21L1153.1 256.17L1149.5 252.21Z" fill="#38e0e0"/><path d="M1154.62 249.62L1158.22 253.58L1154.62 257.54L1151.02 253.58Z" fill="#38e0e0"/><path d="M1156.11 250.96L1159.71 254.92L1156.11 258.88L1152.51 254.92Z" fill="#38e0e0"/><path d="M1157.58 252.29L1161.18 256.25L1157.58 260.21L1153.98 256.25Z" fill="#38e0e0"/><path d="M1159.02 253.6L1162.62 257.56L1159.02 261.52L1155.42 257.56Z" fill="#38e0e0"/><path d="M1160.45 254.89L1164.05 258.85L1160.45 262.81L1156.85 258.85Z" fill="#38e0e0"/><path d="M1161.85 256.17L1165.45 260.13L1161.85 264.09L1158.25 260.13Z" fill="#38e0e0"/><path d="M1163.24 257.43L1166.84 261.39L1163.24 265.35L1159.64 261.39Z" fill="#38e0e0"/><path d="M1164.6 258.67L1168.2 262.63L1164.6 266.59L1161 262.63Z" fill="#38e0e0"/><path d="M1165.94 259.89L1169.54 263.85L1165.94 267.81L1162.34 263.85Z" fill="#38e0e0"/><path d="M1167.27 261.1L1170.87 265.06L1167.27 269.02L1163.67 265.06Z" fill="#38e0e0"/><path d="M1168.58 262.3L1172.18 266.26L1168.58 270.22L1164.98 266.26Z" fill="#38e0e0"/><path d="M1169.87 263.48L1173.47 267.44L1169.87 271.4L1166.27 267.44Z" fill="#38e0e0"/><path d="M1171.14 264.65L1174.74 268.61L1171.14 272.57L1167.54 268.61Z" fill="#38e0e0"/><path d="M1172.39 265.8L1175.99 269.76L1172.39 273.72L1168.79 269.76Z" fill="#38e0e0"/><path d="M1173.63 266.94L1177.23 270.9L1173.63 274.86L1170.03 270.9Z" fill="#38e0e0"/><path d="M1174.86 268.07L1178.46 272.03L1174.86 275.99L1171.26 272.03Z" fill="#38e0e0"/><path d="M1176.06 269.18L1179.66 273.14L1176.06 277.1L1172.46 273.14Z" fill="#38e0e0"/><path d="M1177.25 270.28L1180.85 274.24L1177.25 278.2L1173.65 274.24Z" fill="#38e0e0"/><path d="M1178.43 271.36L1182.03 275.32L1178.43 279.28L1174.83 275.32Z" fill="#38e0e0"/><path d="M1179.59 272.44L1183.19 276.4L1179.59 280.36L1175.99 276.4Z" fill="#38e0e0"/><path d="M1180.74 273.5L1184.34 277.46L1180.74 281.42L1177.14 277.46Z" fill="#38e0e0"/><path d="M1181.88 274.55L1185.48 278.51L1181.88 282.47L1178.28 278.51Z" fill="#38e0e0"/><path d="M1183 275.59L1186.6 279.55L1183 283.51L1179.4 279.55Z" fill="#38e0e0"/><path d="M1184.11 276.62L1187.71 280.58L1184.11 284.54L1180.51 280.58Z" fill="#38e0e0"/><path d="M1185.2 277.64L1188.8 281.6L1185.2 285.56L1181.6 281.6Z" fill="#38e0e0"/><path d="M1186.29 278.65L1189.89 282.61L1186.29 286.57L1182.69 282.61Z" fill="#38e0e0"/><path d="M1187.36 279.64L1190.96 283.6L1187.36 287.56L1183.76 283.6Z" fill="#38e0e0"/><path d="M1188.42 280.63L1192.02 284.59L1188.42 288.55L1184.82 284.59Z" fill="#38e0e0"/><path d="M1189.46 281.61L1193.06 285.57L1189.46 289.53L1185.86 285.57Z" fill="#38e0e0"/><path d="M1190.5 282.57L1194.1 286.53L1190.5 290.49L1186.9 286.53Z" fill="#38e0e0"/><path d="M1191.52 283.53L1195.12 287.49L1191.52 291.45L1187.92 287.49Z" fill="#38e0e0"/></g>
<path d="M762 51.9 L827.69 54.09 L866.11 57.68 L893.37 62.84 L914.52 69.02 L931.79 75.75 L946.4 82.61 L959.05 89.36 L970.22 95.89 L980.2 102.17 L989.23 108.19 L997.48 113.94 L1005.06 119.41 L1012.09 124.64 L1018.62 129.62 L1024.74 134.36 L1030.48 138.9 L1035.9 143.23 L1041.02 147.38 L1045.89 151.36 L1050.51 155.19 L1054.92 158.86 L1059.13 162.39 L1063.16 165.8 L1067.03 169.09 L1070.75 172.26 L1074.32 175.32 L1077.77 178.28 L1081.1 181.15 L1084.31 183.93 L1087.42 186.62 L1090.42 189.23 L1093.34 191.77 L1096.17 194.23 L1098.92 196.62 L1101.59 198.95 L1104.18 201.21 L1106.71 203.42 L1109.17 205.56 L1111.57 207.66 L1113.91 209.7 L1116.19 211.69 L1118.42 213.63 L1120.6 215.52 L1122.73 217.37 L1124.81 219.18 L1126.85 220.95 L1128.85 222.68 L1130.8 224.37 L1132.72 226.02 L1134.59 227.64 L1136.43 229.23 L1138.24 230.78 L1140.01 232.3 L1141.75 233.79 L1143.46 235.25 L1145.13 236.68 L1146.78 238.08 L1148.4 239.46 L1149.99 240.81 L1151.56 242.14 L1153.1 243.44 L1154.62 244.72 L1156.11 245.97 L1157.58 247.2 L1159.02 248.41 L1160.45 249.6 L1161.85 250.77 L1163.24 251.92 L1164.6 253.05 L1165.94 254.16 L1167.27 255.26 L1168.58 256.33 L1169.87 257.39 L1171.14 258.43 L1172.39 259.45 L1173.63 260.46 L1174.86 261.45 L1176.06 262.43 L1177.25 263.39 L1178.43 264.34 L1179.59 265.27 L1180.74 266.19 L1181.88 267.1 L1183 267.99 L1184.11 268.87 L1185.2 269.74 L1186.29 270.59 L1187.36 271.43 L1188.42 272.26 L1189.46 273.08 L1190.5 273.89 L1191.52 274.69" fill="none" stroke="#803080" stroke-width="1"/>
<g><path d="M758 51.9L764.8 47.9L764.8 55.9Z" fill="#c030c8"/><path d="M823.69 54.09L830.49 50.09L830.49 58.09Z" fill="#c030c8"/><path d="M862.11 57.68L868.91 53.68L868.91 61.68Z" fill="#c030c8"/><path d="M889.37 62.84L896.17 58.84L896.17 66.84Z" fill="#c030c8"/><path d="M910.52 69.02L917.32 65.02L917.32 73.02Z" fill="#c030c8"/><path d="M927.79 75.75L934.59 71.75L934.59 79.75Z" fill="#c030c8"/><path d="M942.4 82.61L949.2 78.61L949.2 86.61Z" fill="#c030c8"/><path d="M955.05 89.36L961.85 85.36L961.85 93.36Z" fill="#c030c8"/><path d="M966.22 95.89L973.02 91.89L973.02 99.89Z" fill="#c030c8"/><path d="M976.2 102.17L983 98.17L983 106.17Z" fill="#c030c8"/><path d="M985.23 108.19L992.03 104.19L992.03 112.19Z" fill="#c030c8"/><path d="M993.48 113.94L1000.28 109.94L1000.28 117.94Z" fill="#c030c8"/><path d="M1001.06 119.41L1007.86 115.41L1007.86 123.41Z" fill="#c030c8"/><path d="M1008.09 124.64L1014.89 120.64L1014.89 128.64Z" fill="#c030c8"/><path d="M1014.62 129.62L1021.42 125.62L1021.42 133.62Z" fill="#c030c8"/><path d="M1020.74 134.36L1027.54 130.36L1027.54 138.36Z" fill="#c030c8"/><path d="M1026.48 138.9L1033.28 134.9L1033.28 142.9Z" fill="#c030c8"/><path d="M1031.9 143.23L1038.7 139.23L1038.7 147.23Z" fill="#c030c8"/><path d="M1037.02 147.38L1043.82 143.38L1043.82 151.38Z" fill="#c030c8"/><path d="M1041.89 151.36L1048.69 147.36L1048.69 155.36Z" fill="#c030c8"/><path d="M1046.51 155.19L1053.31 151.19L1053.31 159.19Z" fill="#c030c8"/><path d="M1050.92 158.86L1057.72 154.86L1057.72 162.86Z" fill="#c030c8"/><path d="M1055.13 162.39L1061.93 158.39L1061.93 166.39Z" fill="#c030c8"/><path d="M1059.16 165.8L1065.96 161.8L1065.96 169.8Z" fill="#c030c8"/><path d="M1063.03 169.09L1069.83 165.09L1069.83 173.09Z" fill="#c030c8"/><path d="M1066.75 172.26L1073.55 168.26L1073.55 176.26Z" fill="#c030c8"/><path d="M1070.32 175.32L1077.12 171.32L1077.12 179.32Z" fill="#c030c8"/><path d="M1073.77 178.28L1080.57 174.28L1080.57 182.28Z" fill="#c030c8"/><path d="M1077.1 181.15L1083.9 177.15L1083.9 185.15Z" fill="#c030c8"/><path d="M1080.31 183.93L1087.11 179.93L1087.11 187.93Z" fill="#c030c8"/><path d="M1083.42 186.62L1090.22 182.62L1090.22 190.62Z" fill="#c030c8"/><path d="M1086.42 189.23L1093.22 185.23L1093.22 193.23Z" fill="#c030c8"/><path d="M1089.34 191.77L1096.14 187.77L1096.14 195.77Z" fill="#c030c8"/><path d="M1092.17 194.23L1098.97 190.23L1098.97 198.23Z" fill="#c030c8"/><path d="M1094.92 196.62L1101.72 192.62L1101.72 200.62Z" fill="#c030c8"/><path d="M1097.59 198.95L1104.39 194.95L1104.39 202.95Z" fill="#c030c8"/><path d="M1100.18 201.21L1106.98 197.21L1106.98 205.21Z" fill="#c030c8"/><path d="M1102.71 203.42L1109.51 199.42L1109.51 207.42Z" fill="#c030c8"/><path d="M1105.17 205.56L1111.97 201.56L1111.97 209.56Z" fill="#c030c8"/><path d="M1107.57 207.66L1114.37 203.66L1114.37 211.66Z" fill="#c030c8"/><path d="M1109.91 209.7L1116.71 205.7L1116.71 213.7Z" fill="#c030c8"/><path d="M1112.19 211.69L1118.99 207.69L1118.99 215.69Z" fill="#c030c8"/><path d="M1114.42 213.63L1121.22 209.63L1121.22 217.63Z" fill="#c030c8"/><path d="M1116.6 215.52L1123.4 211.52L1123.4 219.52Z" fill="#c030c8"/><path d="M1118.73 217.37L1125.53 213.37L1125.53 221.37Z" fill="#c030c8"/><path d="M1120.81 219.18L1127.61 215.18L1127.61 223.18Z" fill="#c030c8"/><path d="M1122.85 220.95L1129.65 216.95L1129.65 224.95Z" fill="#c030c8"/><path d="M1124.85 222.68L1131.65 218.68L1131.65 226.68Z" fill="#c030c8"/><path d="M1126.8 224.37L1133.6 220.37L1133.6 228.37Z" fill="#c030c8"/><path d="M1128.72 226.02L1135.52 222.02L1135.52 230.02Z" fill="#c030c8"/><path d="M1130.59 227.64L1137.39 223.64L1137.39 231.64Z" fill="#c030c8"/><path d="M1132.43 229.23L1139.23 225.23L1139.23 233.23Z" fill="#c030c8"/><path d="M1134.24 230.78L1141.04 226.78L1141.04 234.78Z" fill="#c030c8"/><path d="M1136.01 232.3L1142.81 228.3L1142.81 236.3Z" fill="#c030c8"/><path d="M1137.75 233.79L1144.55 229.79L1144.55 237.79Z" fill="#c030c8"/><path d="M1139.46 235.25L1146.26 231.25L1146.26 239.25Z" fill="#c030c8"/><path d="M1141.13 236.68L1147.93 232.68L1147.93 240.68Z" fill="#c030c8"/><path d="M1142.78 238.08L1149.58 234.08L1149.58 242.08Z" fill="#c030c8"/><path d="M1144.4 239.46L1151.2 235.46L1151.2 243.46Z" fill="#c030c8"/><path d="M1145.99 240.81L1152.79 236.81L1152.79 244.81Z" fill="#c030c8"/><path d="M1147.56 242.14L1154.36 238.14L1154.36 246.14Z" fill="#c030c8"/><path d="M1149.1 243.44L1155.9 239.44L1155.9 247.44Z" fill="#c030c8"/><path d="M1150.62 244.72L1157.42 240.72L1157.42 248.72Z" fill="#c030c8"/><path d="M1152.11 245.97L1158.91 241.97L1158.91 249.97Z" fill="#c030c8"/><path d="M1153.58 247.2L1160.38 243.2L1160.38 251.2Z" fill="#c030c8"/><path d="M1155.02 248.41L1161.82 244.41L1161.82 252.41Z" fill="#c030c8"/><path d="M1156.45 249.6L1163.25 245.6L1163.25 253.6Z" fill="#c030c8"/><path d="M1157.85 250.77L1164.65 246.77L1164.65 254.77Z" fill="#c030c8"/><path d="M1159.24 251.92L1166.04 247.92L1166.04 255.92Z" fill="#c030c8"/><path d="M1160.6 253.05L1167.4 249.05L1167.4 257.05Z" fill="#c030c8"/><path d="M1161.94 254.16L1168.74 250.16L1168.74 258.16Z" fill="#c030c8"/><path d="M1163.27 255.26L1170.07 251.26L1170.07 259.26Z" fill="#c030c8"/><path d="M1164.58 256.33L1171.38 252.33L1171.38 260.33Z" fill="#c030c8"/><path d="M1165.87 257.39L1172.67 253.39L1172.67 261.39Z" fill="#c030c8"/><path d="M1167.14 258.43L1173.94 254.43L1173.94 262.43Z" fill="#c030c8"/><path d="M1168.39 259.45L1175.19 255.45L1175.19 263.45Z" fill="#c030c8"/><path d="M1169.63 260.46L1176.43 256.46L1176.43 264.46Z" fill="#c030c8"/><path d="M1170.86 261.45L1177.66 257.45L1177.66 265.45Z" fill="#c030c8"/><path d="M1172.06 262.43L1178.86 258.43L1178.86 266.43Z" fill="#c030c8"/><path d="M1173.25 263.39L1180.05 259.39L1180.05 267.39Z" fill="#c030c8"/><path d="M1174.43 264.34L1181.23 260.34L1181.23 268.34Z" fill="#c030c8"/><path d="M1175.59 265.27L1182.39 261.27L1182.39 269.27Z" fill="#c030c8"/><path d="M1176.74 266.19L1183.54 262.19L1183.54 270.19Z" fill="#c030c8"/><path d="M1177.88 267.1L1184.68 263.1L1184.68 271.1Z" fill="#c030c8"/><path d="M1179 267.99L1185.8 263.99L1185.8 271.99Z" fill="#c030c8"/><path d="M1180.11 268.87L1186.91 264.87L1186.91 272.87Z" fill="#c030c8"/><path d="M1181.2 269.74L1188 265.74L1188 273.74Z" fill="#c030c8"/><path d="M1182.29 270.59L1189.09 266.59L1189.09 274.59Z" fill="#c030c8"/><path d="M1183.36 271.43L1190.16 267.43L1190.16 275.43Z" fill="#c030c8"/><path d="M1184.42 272.26L1191.22 268.26L1191.22 276.26Z" fill="#c030c8"/><path d="M1185.46 273.08L1192.26 269.08L1192.26 277.08Z" fill="#c030c8"/><path d="M1186.5 273.89L1193.3 269.89L1193.3 277.89Z" fill="#c030c8"/><path d="M1187.52 274.69L1194.32 270.69L1194.32 278.69Z" fill="#c030c8"/></g>
<path d="M762 64.41 L827.69 65.97 L866.11 69.54 L893.37 74 L914.52 78.81 L931.79 83.99 L946.4 90.14 L959.05 96.46 L970.22 102.63 L980.2 108.6 L989.23 114.34 L997.48 119.84 L1005.06 125.11 L1012.09 130.15 L1018.62 134.98 L1024.74 139.61 L1030.48 144.04 L1035.9 148.29 L1041.02 152.38 L1045.89 156.31 L1050.51 160.09 L1054.92 163.74 L1059.13 167.25 L1063.16 170.64 L1067.03 173.91 L1070.75 177.08 L1074.32 180.14 L1077.77 183.11 L1081.1 185.98 L1084.31 188.77 L1087.42 191.47 L1090.42 194.1 L1093.34 196.65 L1096.17 199.13 L1098.92 201.54 L1101.59 203.88 L1104.18 206.17 L1106.71 208.39 L1109.17 210.56 L1111.57 212.68 L1113.91 214.74 L1116.19 216.76 L1118.42 218.72 L1120.6 220.64 L1122.73 222.52 L1124.81 224.36 L1126.85 226.15 L1128.85 227.9 L1130.8 229.62 L1132.72 231.3 L1134.59 232.94 L1136.43 234.55 L1138.24 236.13 L1140.01 237.68 L1141.75 239.19 L1143.46 240.68 L1145.13 242.14 L1146.78 243.57 L1148.4 244.97 L1149.99 246.34 L1151.56 247.7 L1153.1 249.02 L1154.62 250.32 L1156.11 251.6 L1157.58 252.86 L1159.02 254.09 L1160.45 255.31 L1161.85 256.5 L1163.24 257.67 L1164.6 258.83 L1165.94 259.96 L1167.27 261.08 L1168.58 262.17 L1169.87 263.25 L1171.14 264.32 L1172.39 265.36 L1173.63 266.39 L1174.86 267.41 L1176.06 268.4 L1177.25 269.39 L1178.43 270.36 L1179.59 271.31 L1180.74 272.25 L1181.88 273.18 L1183 274.09 L1184.11 274.99 L1185.2 275.87 L1186.29 276.75 L1187.36 277.61 L1188.42 278.46 L1189.46 279.3 L1190.5 280.12 L1191.52 280.94" fill="none" stroke="#505030" stroke-width="1"/>
<g><circle cx="762" cy="64.41" r="2.5" fill="#6e7e30"/><circle cx="827.69" cy="65.97" r="2.5" fill="#6e7e30"/><circle cx="866.11" cy="69.54" r="2.5" fill="#6e7e30"/><circle cx="893.37" cy="74" r="2.5" fill="#6e7e30"/><circle cx="914.52" cy="78.81" r="2.5" fill="#6e7e30"/><circle cx="931.79" cy="83.99" r="2.5" fill="#6e7e30"/><circle cx="946.4" cy="90.14" r="2.5" fill="#6e7e30"/><circle cx="959.05" cy="96.46" r="2.5" fill="#6e7e30"/><circle cx="970.22" cy="102.63" r="2.5" fill="#6e7e30"/><circle cx="980.2" cy="108.6" r="2.5" fill="#6e7e30"/><circle cx="989.23" cy="114.34" r="2.5" fill="#6e7e30"/><circle cx="997.48" cy="119.84" r="2.5" fill="#6e7e30"/><circle cx="1005.06" cy="125.11" r="2.5" fill="#6e7e30"/><circle cx="1012.09" cy="130.15" r="2.5" fill="#6e7e30"/><circle cx="1018.62" cy="134.98" r="2.5" fill="#6e7e30"/><circle cx="1024.74" cy="139.61" r="2.5" fill="#6e7e30"/><circle cx="1030.48" cy="144.04" r="2.5" fill="#6e7e30"/><circle cx="1035.9" cy="148.29" r="2.5" fill="#6e7e30"/><circle cx="1041.02" cy="152.38" r="2.5" fill="#6e7e30"/><circle cx="1045.89" cy="156.31" r="2.5" fill="#6e7e30"/><circle cx="1050.51" cy="160.09" r="2.5" fill="#6e7e30"/><circle cx="1054.92" cy="163.74" r="2.5" fill="#6e7e30"/><circle cx="1059.13" cy="167.25" r="2.5" fill="#6e7e30"/><circle cx="1063.16" cy="170.64" r="2.5" fill="#6e7e30"/><circle cx="1067.03" cy="173.91" r="2.5" fill="#6e7e30"/><circle cx="1070.75" cy="177.08" r="2.5" fill="#6e7e30"/><circle cx="1074.32" cy="180.14" r="2.5" fill="#6e7e30"/><circle cx="1077.77" cy="183.11" r="2.5" fill="#6e7e30"/><circle cx="1081.1" cy="185.98" r="2.5" fill="#6e7e30"/><circle cx="1084.31" cy="188.77" r="2.5" fill="#6e7e30"/><circle cx="1087.42" cy="191.47" r="2.5" fill="#6e7e30"/><circle cx="1090.42" cy="194.1" r="2.5" fill="#6e7e30"/><circle cx="1093.34" cy="196.65" r="2.5" fill="#6e7e30"/><circle cx="1096.17" cy="199.13" r="2.5" fill="#6e7e30"/><circle cx="1098.92" cy="201.54" r="2.5" fill="#6e7e30"/><circle cx="1101.59" cy="203.88" r="2.5" fill="#6e7e30"/><circle cx="1104.18" cy="206.17" r="2.5" fill="#6e7e30"/><circle cx="1106.71" cy="208.39" r="2.5" fill="#6e7e30"/><circle cx="1109.17" cy="210.56" r="2.5" fill="#6e7e30"/><circle cx="1111.57" cy="212.68" r="2.5" fill="#6e7e30"/><circle cx="1113.91" cy="214.74" r="2.5" fill="#6e7e30"/><circle cx="1116.19" cy="216.76" r="2.5" fill="#6e7e30"/><circle cx="1118.42" cy="218.72" r="2.5" fill="#6e7e30"/><circle cx="1120.6" cy="220.64" r="2.5" fill="#6e7e30"/><circle cx="1122.73" cy="222.52" r="2.5" fill="#6e7e30"/><circle cx="1124.81" cy="224.36" r="2.5" fill="#6e7e30"/><circle cx="1126.85" cy="226.15" r="2.5" fill="#6e7e30"/><circle cx="1128.85" cy="227.9" r="2.5" fill="#6e7e30"/><circle cx="1130.8" cy="229.62" r="2.5" fill="#6e7e30"/><circle cx="1132.72" cy="231.3" r="2.5" fill="#6e7e30"/><circle cx="1134.59" cy="232.94" r="2.5" fill="#6e7e30"/><circle cx="1136.43" cy="234.55" r="2.5" fill="#6e7e30"/><circle cx="1138.24" cy="236.13" r="2.5" fill="#6e7e30"/><circle cx="1140.01" cy="237.68" r="2.5" fill="#6e7e30"/><circle cx="1141.75" cy="239.19" r="2.5" fill="#6e7e30"/><circle cx="1143.46" cy="240.68" r="2.5" fill="#6e7e30"/><circle cx="1145.13" cy="242.14" r="2.5" fill="#6e7e30"/><circle cx="1146.78" cy="243.57" r="2.5" fill="#6e7e30"/><circle cx="1148.4" cy="244.97" r="2.5" fill="#6e7e30"/><circle cx="1149.99" cy="246.34" r="2.5" fill="#6e7e30"/><circle cx="1151.56" cy="247.7" r="2.5" fill="#6e7e30"/><circle cx="1153.1" cy="249.02" r="2.5" fill="#6e7e30"/><circle cx="1154.62" cy="250.32" r="2.5" fill="#6e7e30"/><circle cx="1156.11" cy="251.6" r="2.5" fill="#6e7e30"/><circle cx="1157.58" cy="252.86" r="2.5" fill="#6e7e30"/><circle cx="1159.02" cy="254.09" r="2.5" fill="#6e7e30"/><circle cx="1160.45" cy="255.31" r="2.5" fill="#6e7e30"/><circle cx="1161.85" cy="256.5" r="2.5" fill="#6e7e30"/><circle cx="1163.24" cy="257.67" r="2.5" fill="#6e7e30"/><circle cx="1164.6" cy="258.83" r="2.5" fill="#6e7e30"/><circle cx="1165.94" cy="259.96" r="2.5" fill="#6e7e30"/><circle cx="1167.27" cy="261.08" r="2.5" fill="#6e7e30"/><circle cx="1168.58" cy="262.17" r="2.5" fill="#6e7e30"/><circle cx="1169.87" cy="263.25" r="2.5" fill="#6e7e30"/><circle cx="1171.14" cy="264.32" r="2.5" fill="#6e7e30"/><circle cx="1172.39" cy="265.36" r="2.5" fill="#6e7e30"/><circle cx="1173.63" cy="266.39" r="2.5" fill="#6e7e30"/><circle cx="1174.86" cy="267.41" r="2.5" fill="#6e7e30"/><circle cx="1176.06" cy="268.4" r="2.5" fill="#6e7e30"/><circle cx="1177.25" cy="269.39" r="2.5" fill="#6e7e30"/><circle cx="1178.43" cy="270.36" r="2.5" fill="#6e7e30"/><circle cx="1179.59" cy="271.31" r="2.5" fill="#6e7e30"/><circle cx="1180.74" cy="272.25" r="2.5" fill="#6e7e30"/><circle cx="1181.88" cy="273.18" r="2.5" fill="#6e7e30"/><circle cx="1183" cy="274.09" r="2.5" fill="#6e7e30"/><circle cx="1184.11" cy="274.99" r="2.5" fill="#6e7e30"/><circle cx="1185.2" cy="275.87" r="2.5" fill="#6e7e30"/><circle cx="1186.29" cy="276.75" r="2.5" fill="#6e7e30"/><circle cx="1187.36" cy="277.61" r="2.5" fill="#6e7e30"/><circle cx="1188.42" cy="278.46" r="2.5" fill="#6e7e30"/><circle cx="1189.46" cy="279.3" r="2.5" fill="#6e7e30"/><circle cx="1190.5" cy="280.12" r="2.5" fill="#6e7e30"/><circle cx="1191.52" cy="280.94" r="2.5" fill="#6e7e30"/></g>
<path d="M762 70.5 L827.69 73.76 L866.11 77.47 L893.37 83.55 L914.52 90.58 L931.79 97.87 L946.4 105.17 L959.05 112.37 L970.22 119.42 L980.2 126.31 L989.23 132.98 L997.48 139.27 L1005.06 145.1 L1012.09 150.42 L1018.62 155.23 L1024.74 159.64 L1030.48 163.75 L1035.9 167.61 L1041.02 171.29 L1045.89 174.82 L1050.51 178.24 L1054.92 181.56 L1059.13 184.78 L1063.16 187.92 L1067.03 190.96 L1070.75 193.92 L1074.32 196.8 L1077.77 199.6 L1081.1 202.32 L1084.31 204.97 L1087.42 207.55 L1090.42 210.07 L1093.34 212.52 L1096.17 214.91 L1098.92 217.23 L1101.59 219.5 L1104.18 221.72 L1106.71 223.88 L1109.17 226 L1111.57 228.06 L1113.91 230.07 L1116.19 232.04 L1118.42 233.97 L1120.6 235.85 L1122.73 237.7 L1124.81 239.5 L1126.85 241.26 L1128.85 242.99 L1130.8 244.68 L1132.72 246.34 L1134.59 247.96 L1136.43 249.55 L1138.24 251.11 L1140.01 252.64 L1141.75 254.14 L1143.46 255.61 L1145.13 257.06 L1146.78 258.47 L1148.4 259.86 L1149.99 261.23 L1151.56 262.57 L1153.1 263.88 L1154.62 265.18 L1156.11 266.45 L1157.58 267.69 L1159.02 268.92 L1160.45 270.13 L1161.85 271.31 L1163.24 272.47 L1164.6 273.62 L1165.94 274.75 L1167.27 275.85 L1168.58 276.94 L1169.87 278.02 L1171.14 279.07 L1172.39 280.11 L1173.63 281.13 L1174.86 282.14 L1176.06 283.13 L1177.25 284.1 L1178.43 285.06 L1179.59 286.01 L1180.74 286.94 L1181.88 287.86 L1183 288.76 L1184.11 289.66 L1185.2 290.53 L1186.29 291.4 L1187.36 292.25 L1188.42 293.09 L1189.46 293.92 L1190.5 294.74 L1191.52 295.54" fill="none" stroke="#906040" stroke-width="1"/>
<g><path d="M765.6 70.5L759.48 66.9L759.48 74.1Z" fill="#e08830"/><path d="M831.29 73.76L825.17 70.16L825.17 77.36Z" fill="#e08830"/><path d="M869.71 77.47L863.59 73.87L863.59 81.07Z" fill="#e08830"/><path d="M896.97 83.55L890.85 79.95L890.85 87.15Z" fill="#e08830"/><path d="M918.12 90.58L912 86.98L912 94.18Z" fill="#e08830"/><path d="M935.39 97.87L929.27 94.27L929.27 101.47Z" fill="#e08830"/><path d="M950 105.17L943.88 101.57L943.88 108.77Z" fill="#e08830"/><path d="M962.65 112.37L956.53 108.77L956.53 115.97Z" fill="#e08830"/><path d="M973.82 119.42L967.7 115.82L967.7 123.02Z" fill="#e08830"/><path d="M983.8 126.31L977.68 122.71L977.68 129.91Z" fill="#e08830"/><path d="M992.83 132.98L986.71 129.38L986.71 136.58Z" fill="#e08830"/><path d="M1001.08 139.27L994.96 135.67L994.96 142.87Z" fill="#e08830"/><path d="M1008.66 145.1L1002.54 141.5L1002.54 148.7Z" fill="#e08830"/><path d="M1015.69 150.42L1009.57 146.82L1009.57 154.02Z" fill="#e08830"/><path d="M1022.22 155.23L1016.1 151.63L1016.1 158.83Z" fill="#e08830"/><path d="M1028.34 159.64L1022.22 156.04L1022.22 163.24Z" fill="#e08830"/><path d="M1034.08 163.75L1027.96 160.15L1027.96 167.35Z" fill="#e08830"/><path d="M1039.5 167.61L1033.38 164.01L1033.38 171.21Z" fill="#e08830"/><path d="M1044.62 171.29L1038.5 167.69L1038.5 174.89Z" fill="#e08830"/><path d="M1049.49 174.82L1043.37 171.22L1043.37 178.42Z" fill="#e08830"/><path d="M1054.11 178.24L1047.99 174.64L1047.99 181.84Z" fill="#e08830"/><path d="M1058.52 181.56L1052.4 177.96L1052.4 185.16Z" fill="#e08830"/><path d="M1062.73 184.78L1056.61 181.18L1056.61 188.38Z" fill="#e08830"/><path d="M1066.76 187.92L1060.64 184.32L1060.64 191.52Z" fill="#e08830"/><path d="M1070.63 190.96L1064.51 187.36L1064.51 194.56Z" fill="#e08830"/><path d="M1074.35 193.92L1068.23 190.32L1068.23 197.52Z" fill="#e08830"/><path d="M1077.92 196.8L1071.8 193.2L1071.8 200.4Z" fill="#e08830"/><path d="M1081.37 199.6L1075.25 196L1075.25 203.2Z" fill="#e08830"/><path d="M1084.7 202.32L1078.58 198.72L1078.58 205.92Z" fill="#e08830"/><path d="M1087.91 204.97L1081.79 201.37L1081.79 208.57Z" fill="#e08830"/><path d="M1091.02 207.55L1084.9 203.95L1084.9 211.15Z" fill="#e08830"/><path d="M1094.02 210.07L1087.9 206.47L1087.9 213.67Z" fill="#e08830"/><path d="M1096.94 212.52L1090.82 208.92L1090.82 216.12Z" fill="#e08830"/><path d="M1099.77 214.91L1093.65 211.31L1093.65 218.51Z" fill="#e08830"/><path d="M1102.52 217.23L1096.4 213.63L1096.4 220.83Z" fill="#e08830"/><path d="M1105.19 219.5L1099.07 215.9L1099.07 223.1Z" fill="#e08830"/><path d="M1107.78 221.72L1101.66 218.12L1101.66 225.32Z" fill="#e08830"/><path d="M1110.31 223.88L1104.19 220.28L1104.19 227.48Z" fill="#e08830"/><path d="M1112.77 226L1106.65 222.4L1106.65 229.6Z" fill="#e08830"/><path d="M1115.17 228.06L1109.05 224.46L1109.05 231.66Z" fill="#e08830"/><path d="M1117.51 230.07L1111.39 226.47L1111.39 233.67Z" fill="#e08830"/><path d="M1119.79 232.04L1113.67 228.44L1113.67 235.64Z" fill="#e08830"/><path d="M1122.02 233.97L1115.9 230.37L1115.9 237.57Z" fill="#e08830"/><path d="M1124.2 235.85L1118.08 232.25L1118.08 239.45Z" fill="#e08830"/><path d="M1126.33 237.7L1120.21 234.1L1120.21 241.3Z" fill="#e08830"/><path d="M1128.41 239.5L1122.29 235.9L1122.29 243.1Z" fill="#e08830"/><path d="M1130.45 241.26L1124.33 237.66L1124.33 244.86Z" fill="#e08830"/><path d="M1132.45 242.99L1126.33 239.39L1126.33 246.59Z" fill="#e08830"/><path d="M1134.4 244.68L1128.28 241.08L1128.28 248.28Z" fill="#e08830"/><path d="M1136.32 246.34L1130.2 242.74L1130.2 249.94Z" fill="#e08830"/><path d="M1138.19 247.96L1132.07 244.36L1132.07 251.56Z" fill="#e08830"/><path d="M1140.03 249.55L1133.91 245.95L1133.91 253.15Z" fill="#e08830"/><path d="M1141.84 251.11L1135.72 247.51L1135.72 254.71Z" fill="#e08830"/><path d="M1143.61 252.64L1137.49 249.04L1137.49 256.24Z" fill="#e08830"/><path d="M1145.35 254.14L1139.23 250.54L1139.23 257.74Z" fill="#e08830"/><path d="M1147.06 255.61L1140.94 252.01L1140.94 259.21Z" fill="#e08830"/><path d="M1148.73 257.06L1142.61 253.46L1142.61 260.66Z" fill="#e08830"/><path d="M1150.38 258.47L1144.26 254.87L1144.26 262.07Z" fill="#e08830"/><path d="M1152 259.86L1145.88 256.26L1145.88 263.46Z" fill="#e08830"/><path d="M1153.59 261.23L1147.47 257.63L1147.47 264.83Z" fill="#e08830"/><path d="M1155.16 262.57L1149.04 258.97L1149.04 266.17Z" fill="#e08830"/><path d="M1156.7 263.88L1150.58 260.28L1150.58 267.48Z" fill="#e08830"/><path d="M1158.22 265.18L1152.1 261.58L1152.1 268.78Z" fill="#e08830"/><path d="M1159.71 266.45L1153.59 262.85L1153.59 270.05Z" fill="#e08830"/><path d="M1161.18 267.69L1155.06 264.09L1155.06 271.29Z" fill="#e08830"/><path d="M1162.62 268.92L1156.5 265.32L1156.5 272.52Z" fill="#e08830"/><path d="M1164.05 270.13L1157.93 266.53L1157.93 273.73Z" fill="#e08830"/><path d="M1165.45 271.31L1159.33 267.71L1159.33 274.91Z" fill="#e08830"/><path d="M1166.84 272.47L1160.72 268.87L1160.72 276.07Z" fill="#e08830"/><path d="M1168.2 273.62L1162.08 270.02L1162.08 277.22Z" fill="#e08830"/><path d="M1169.54 274.75L1163.42 271.15L1163.42 278.35Z" fill="#e08830"/><path d="M1170.87 275.85L1164.75 272.25L1164.75 279.45Z" fill="#e08830"/><path d="M1172.18 276.94L1166.06 273.34L1166.06 280.54Z" fill="#e08830"/><path d="M1173.47 278.02L1167.35 274.42L1167.35 281.62Z" fill="#e08830"/><path d="M1174.74 279.07L1168.62 275.47L1168.62 282.67Z" fill="#e08830"/><path d="M1175.99 280.11L1169.87 276.51L1169.87 283.71Z" fill="#e08830"/><path d="M1177.23 281.13L1171.11 277.53L1171.11 284.73Z" fill="#e08830"/><path d="M1178.46 282.14L1172.34 278.54L1172.34 285.74Z" fill="#e08830"/><path d="M1179.66 283.13L1173.54 279.53L1173.54 286.73Z" fill="#e08830"/><path d="M1180.85 284.1L1174.73 280.5L1174.73 287.7Z" fill="#e08830"/><path d="M1182.03 285.06L1175.91 281.46L1175.91 288.66Z" fill="#e08830"/><path d="M1183.19 286.01L1177.07 282.41L1177.07 289.61Z" fill="#e08830"/><path d="M1184.34 286.94L1178.22 283.34L1178.22 290.54Z" fill="#e08830"/><path d="M1185.48 287.86L1179.36 284.26L1179.36 291.46Z" fill="#e08830"/><path d="M1186.6 288.76L1180.48 285.16L1180.48 292.36Z" fill="#e08830"/><path d="M1187.71 289.66L1181.59 286.06L1181.59 293.26Z" fill="#e08830"/><path d="M1188.8 290.53L1182.68 286.93L1182.68 294.13Z" fill="#e08830"/><path d="M1189.89 291.4L1183.77 287.8L1183.77 295Z" fill="#e08830"/><path d="M1190.96 292.25L1184.84 288.65L1184.84 295.85Z" fill="#e08830"/><path d="M1192.02 293.09L1185.9 289.49L1185.9 296.69Z" fill="#e08830"/><path d="M1193.06 293.92L1186.94 290.32L1186.94 297.52Z" fill="#e08830"/><path d="M1194.1 294.74L1187.98 291.14L1187.98 298.34Z" fill="#e08830"/><path d="M1195.12 295.54L1189 291.94L1189 299.14Z" fill="#e08830"/></g>
</g>
<rect x="749" y="222" width="118" height="36" fill="#fff"/>
<rect x="749" y="262" width="209" height="197" fill="#fff"/>
<text x="755.5" y="250.5" font-size="28.5">30K,<tspan x="817" font-style="italic">B</tspan><tspan x="834.5">/</tspan><tspan x="843">/</tspan><tspan x="851" font-style="italic">c</tspan></text>
<line x1="752" y1="277.2" x2="794" y2="277.2" stroke="#a0a0a0" stroke-width="1.5"/>
<rect x="771.17" y="274.87" width="4.66" height="4.66" fill="#000000"/>
<text x="800" y="283.4" font-size="19">Pristine</text>
<line x1="752" y1="300.7" x2="794" y2="300.7" stroke="#e0a0a0" stroke-width="1.5"/>
<circle cx="773.5" cy="300.7" r="2.52" fill="#d02222"/>
<text x="800" y="306.9" font-size="19">Traditional: 2L, 5%</text>
<line x1="752" y1="324.2" x2="794" y2="324.2" stroke="#70d070" stroke-width="1.5"/>
<path d="M773.5 320.78L776.92 326.59L770.08 326.59Z" fill="#22dd22"/>
<text x="800" y="330.4" font-size="19">Multistep: 2L, 5%</text>
<line x1="752" y1="347.7" x2="794" y2="347.7" stroke="#6060a0" stroke-width="1.5"/>
<path d="M773.5 351.12L776.92 345.31L770.08 345.31Z" fill="#0a1a9a"/>
<text x="800" y="353.9" font-size="19">Multistep: 2L, 10%</text>
<line x1="752" y1="371.2" x2="794" y2="371.2" stroke="#80e0e0" stroke-width="1.5"/>
<path d="M773.5 367.44L776.92 371.2L773.5 374.96L770.08 371.2Z" fill="#38e0e0"/>
<text x="800" y="377.4" font-size="19">Multistep: 2L, 15%</text>
<line x1="752" y1="394.7" x2="794" y2="394.7" stroke="#b070c0" stroke-width="1.5"/>
<path d="M769.7 394.7L776.16 390.9L776.16 398.5Z" fill="#c030c8"/>
<text x="800" y="400.9" font-size="19">Multistep: 3L, 5%</text>
<line x1="752" y1="418.2" x2="794" y2="418.2" stroke="#c8c8b0" stroke-width="1.5"/>
<circle cx="773.5" cy="418.2" r="2.38" fill="#6e7e30"/>
<text x="800" y="424.4" font-size="19">Multistep: 3L, 10%</text>
<line x1="752" y1="441.7" x2="794" y2="441.7" stroke="#e0c8a0" stroke-width="1.5"/>
<path d="M776.92 441.7L771.11 438.28L771.11 445.12Z" fill="#e08830"/>
<text x="800" y="447.9" font-size="19">Multistep: 3L, 15%</text>
<rect x="747.6" y="26.6" width="484.4" height="433.79999999999995" fill="none" stroke="#000" stroke-width="2.2"/>
<line x1="735.1" y1="460.4" x2="747.6" y2="460.4" stroke="#000" stroke-width="2.2"/>
<line x1="740.6" y1="386.95" x2="747.6" y2="386.95" stroke="#000" stroke-width="2.2"/>
<line x1="740.6" y1="343.98" x2="747.6" y2="343.98" stroke="#000" stroke-width="2.2"/>
<line x1="740.6" y1="313.5" x2="747.6" y2="313.5" stroke="#000" stroke-width="2.2"/>
<line x1="740.6" y1="289.85" x2="747.6" y2="289.85" stroke="#000" stroke-width="2.2"/>
<line x1="740.6" y1="270.53" x2="747.6" y2="270.53" stroke="#000" stroke-width="2.2"/>
<line x1="740.6" y1="254.2" x2="747.6" y2="254.2" stroke="#000" stroke-width="2.2"/>
<line x1="740.6" y1="240.05" x2="747.6" y2="240.05" stroke="#000" stroke-width="2.2"/>
<line x1="740.6" y1="227.56" x2="747.6" y2="227.56" stroke="#000" stroke-width="2.2"/>
<line x1="735.1" y1="216.4" x2="747.6" y2="216.4" stroke="#000" stroke-width="2.2"/>
<line x1="740.6" y1="142.95" x2="747.6" y2="142.95" stroke="#000" stroke-width="2.2"/>
<line x1="740.6" y1="99.98" x2="747.6" y2="99.98" stroke="#000" stroke-width="2.2"/>
<line x1="740.6" y1="69.5" x2="747.6" y2="69.5" stroke="#000" stroke-width="2.2"/>
<line x1="740.6" y1="45.85" x2="747.6" y2="45.85" stroke="#000" stroke-width="2.2"/>
<line x1="740.6" y1="26.53" x2="747.6" y2="26.53" stroke="#000" stroke-width="2.2"/>
<text x="738.3" y="33.03" font-size="22.6" text-anchor="end">6000</text>
<text x="738.3" y="76" font-size="22.6" text-anchor="end">4000</text>
<text x="738.3" y="149.45" font-size="22.6" text-anchor="end">2000</text>
<text x="726" y="222.6" font-size="22.6" text-anchor="end">1000</text>
<text x="738.3" y="246.55" font-size="22.6" text-anchor="end">800</text>
<text x="738.3" y="277.03" font-size="22.6" text-anchor="end">600</text>
<text x="738.3" y="320" font-size="22.6" text-anchor="end">400</text>
<text x="738.3" y="393.45" font-size="22.6" text-anchor="end">200</text>
<text x="726" y="466.6" font-size="22.6" text-anchor="end">100</text>
<line x1="747.39" y1="460.4" x2="747.39" y2="466.4" stroke="#000" stroke-width="2.2"/>
<line x1="762" y1="460.4" x2="762" y2="466.4" stroke="#000" stroke-width="2.2"/>
<line x1="774.65" y1="460.4" x2="774.65" y2="466.4" stroke="#000" stroke-width="2.2"/>
<line x1="785.82" y1="460.4" x2="785.82" y2="466.4" stroke="#000" stroke-width="2.2"/>
<line x1="795.8" y1="460.4" x2="795.8" y2="473" stroke="#000" stroke-width="2.2"/>
<line x1="861.48" y1="460.4" x2="861.48" y2="466.4" stroke="#000" stroke-width="2.2"/>
<line x1="899.91" y1="460.4" x2="899.91" y2="466.4" stroke="#000" stroke-width="2.2"/>
<line x1="927.17" y1="460.4" x2="927.17" y2="466.4" stroke="#000" stroke-width="2.2"/>
<line x1="948.32" y1="460.4" x2="948.32" y2="466.4" stroke="#000" stroke-width="2.2"/>
<line x1="965.59" y1="460.4" x2="965.59" y2="466.4" stroke="#000" stroke-width="2.2"/>
<line x1="980.2" y1="460.4" x2="980.2" y2="466.4" stroke="#000" stroke-width="2.2"/>
<line x1="992.85" y1="460.4" x2="992.85" y2="466.4" stroke="#000" stroke-width="2.2"/>
<line x1="1004.02" y1="460.4" x2="1004.02" y2="466.4" stroke="#000" stroke-width="2.2"/>
<line x1="1014" y1="460.4" x2="1014" y2="473" stroke="#000" stroke-width="2.2"/>
<line x1="1079.68" y1="460.4" x2="1079.68" y2="466.4" stroke="#000" stroke-width="2.2"/>
<line x1="1118.11" y1="460.4" x2="1118.11" y2="466.4" stroke="#000" stroke-width="2.2"/>
<line x1="1145.37" y1="460.4" x2="1145.37" y2="466.4" stroke="#000" stroke-width="2.2"/>
<line x1="1166.52" y1="460.4" x2="1166.52" y2="466.4" stroke="#000" stroke-width="2.2"/>
<line x1="1183.79" y1="460.4" x2="1183.79" y2="466.4" stroke="#000" stroke-width="2.2"/>
<line x1="1198.4" y1="460.4" x2="1198.4" y2="466.4" stroke="#000" stroke-width="2.2"/>
<line x1="1211.05" y1="460.4" x2="1211.05" y2="466.4" stroke="#000" stroke-width="2.2"/>
<line x1="1222.22" y1="460.4" x2="1222.22" y2="466.4" stroke="#000" stroke-width="2.2"/>
<line x1="1232.2" y1="460.4" x2="1232.2" y2="473" stroke="#000" stroke-width="2.2"/>
<text x="795.8" y="500.3" font-size="23" text-anchor="middle">0.1</text>
<text x="1014" y="500.3" font-size="23" text-anchor="middle">1</text>
<text x="1232.2" y="500.3" font-size="23" text-anchor="middle">10</text>
<text x="962" y="524.7" font-size="28.7"><tspan font-style="italic">B</tspan>(T)</text>
<text transform="translate(672,349) rotate(-90)" font-size="28.5"><tspan font-style="italic">I</tspan><tspan font-size="18.5" dy="5.5">c</tspan><tspan dy="-5.5">(A/12mm-width)</tspan></text>
<text x="1187" y="59" font-size="28">(b)</text>
<text x="1057.5" y="132.2" font-size="23.7">Multi-step growth</text>
<line x1="1134" y1="143" x2="1123" y2="194" stroke="#000" stroke-width="1.6"/>
<ellipse cx="1122.3" cy="223.5" rx="14.6" ry="30.5" transform="rotate(5 1122.3 223.5)" fill="none" stroke="#000" stroke-width="2.8" stroke-dasharray="7.5 5"/>
<path d="M1013.6 168.3L1019.6 187.3L1015.5 186.3V196.9H1011.8V186.3L1007.6 187.3Z" fill="#000"/>
<path d="M1013.6 212L1019.6 230.7L1015.5 229.7V248.2H1011.8V229.7L1007.6 230.7Z" fill="#000"/>
</svg></body></html>
